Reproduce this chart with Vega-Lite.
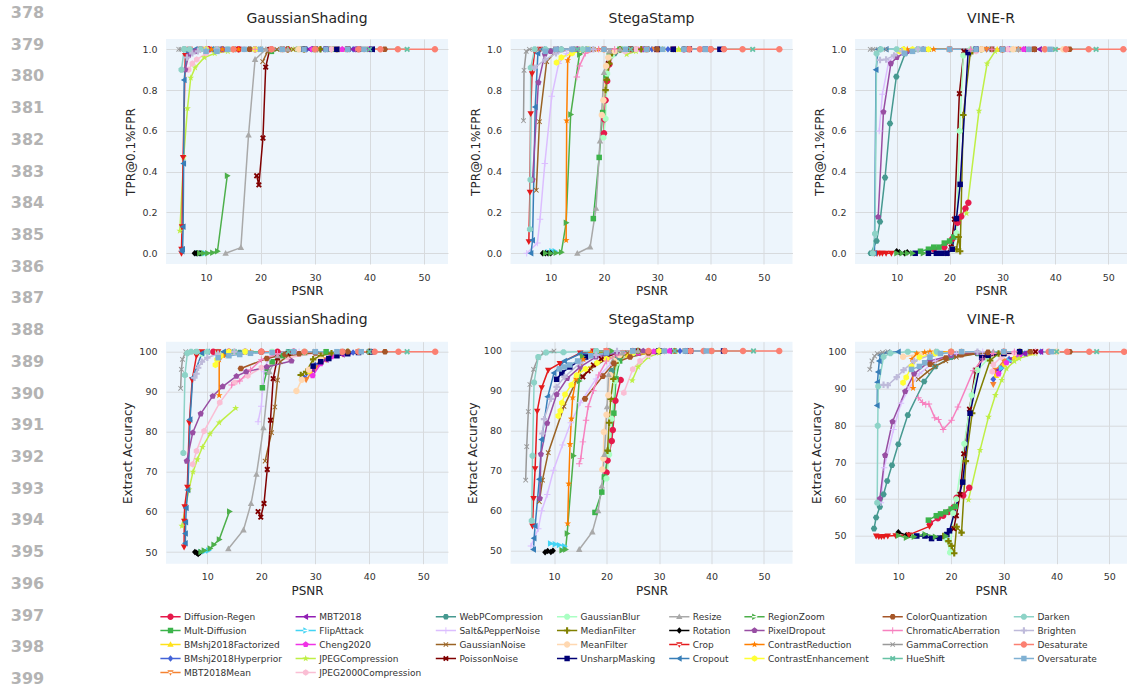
{
"$schema": "https://vega.github.io/schema/vega-lite/v6.json",
"autosize": {"type": "pad"},
"padding": {"left": 0, "top": 4, "right": 0, "bottom": 0},
"background": "white",
"config": {
  "font": "DejaVu Sans",
  "view": {"fill": "#edf5fc", "stroke": null},
  "axis": {"domain": false, "ticks": false, "tickSize": 0, "grid": true, "gridColor": "#d7dadd", "gridWidth": 1, "labelFontSize": 9.5, "labelColor": "#333333", "titleFontSize": 12, "titleFontWeight": "normal", "titleColor": "#262626"},
  "axisX": {"labelPadding": 8, "titlePadding": 4},
  "axisY": {"labelPadding": 9, "titlePadding": 4},
  "title": {"fontSize": 14, "fontWeight": "normal", "color": "#262626", "offset": 13, "baseline": "alphabetic"},
  "range": {
    "category": ["#e6194b","#911eb4","#469990","#aaffc3","#a9a9a9","#4daf4a","#a65628","#8dd3c7","#3cb44b","#42d4f4","#dcbeff","#808000","#000000","#984ea3","#f781bf","#bebada","#ffe119","#f032e6","#9a6324","#ffd8b1","#e41a1c","#ff7f00","#999999","#fb8072","#4363d8","#bfef45","#800000","#000075","#377eb8","#ffff33","#66c2a5","#80b1d3","#f58231","#fabed4"],
    "symbol": [
      "M1,0A1,1,0,1,1,-1,0A1,1,0,1,1,1,0Z",
      "M-1.05,0L0.75,-1L0.75,1Z",
      "M1,0L0.5,0.866L-0.5,0.866L-1,0L-0.5,-0.866L0.5,-0.866Z",
      "M0.924,0.383L0.383,0.924L-0.383,0.924L-0.924,0.383L-0.924,-0.383L-0.383,-0.924L0.383,-0.924L0.924,-0.383Z",
      "M0,-1.05L1,0.75L-1,0.75Z",
      "M1.05,0L-0.75,-1L-0.75,1Z",
      "M1,0L0.5,0.866L-0.5,0.866L-1,0L-0.5,-0.866L0.5,-0.866Z",
      "M0.924,0.383L0.383,0.924L-0.383,0.924L-0.924,0.383L-0.924,-0.383L-0.383,-0.924L0.383,-0.924L0.924,-0.383Z",
      "M-0.85,-0.85L0.85,-0.85L0.85,0.85L-0.85,0.85Z",
      "M1.05,0L-0.75,-1L-0.75,1Z",
      "M-1,-0.15L-0.15,-0.15L-0.15,-1L0.15,-1L0.15,-0.15L1,-0.15L1,0.15L0.15,0.15L0.15,1L-0.15,1L-0.15,0.15L-1,0.15Z",
      "M-1,-0.33L-0.33,-0.33L-0.33,-1L0.33,-1L0.33,-0.33L1,-0.33L1,0.33L0.33,0.33L0.33,1L-0.33,1L-0.33,0.33L-1,0.33Z",
      "M0,-1L0.9,0L0,1L-0.9,0Z",
      "M0,-1L0.951,-0.309L0.588,0.809L-0.588,0.809L-0.951,-0.309Z",
      "M-1,-0.15L-0.15,-0.15L-0.15,-1L0.15,-1L0.15,-0.15L1,-0.15L1,0.15L0.15,0.15L0.15,1L-0.15,1L-0.15,0.15L-1,0.15Z",
      "M-1,-0.33L-0.33,-0.33L-0.33,-1L0.33,-1L0.33,-0.33L1,-0.33L1,0.33L0.33,0.33L0.33,1L-0.33,1L-0.33,0.33L-1,0.33Z",
      "M0,-1.05L1,0.75L-1,0.75Z",
      "M0,-1L0.951,-0.309L0.588,0.809L-0.588,0.809L-0.951,-0.309Z",
      "M-0.8,-0.6L-0.6,-0.8L0,-0.2L0.6,-0.8L0.8,-0.6L0.2,0L0.8,0.6L0.6,0.8L0,0.2L-0.6,0.8L-0.8,0.6L-0.2,0Z",
      "M1,0A1,1,0,1,1,-1,0A1,1,0,1,1,1,0Z",
      "M0,1.05L1,-0.75L-1,-0.75Z",
      "M0,-1.1L0.26,-0.36L1.05,-0.34L0.42,0.14L0.65,0.89L0,0.44L-0.65,0.89L-0.42,0.14L-1.05,-0.34L-0.26,-0.36Z",
      "M-0.8,-0.6L-0.6,-0.8L0,-0.2L0.6,-0.8L0.8,-0.6L0.2,0L0.8,0.6L0.6,0.8L0,0.2L-0.6,0.8L-0.8,0.6L-0.2,0Z",
      "M1,0A1,1,0,1,1,-1,0A1,1,0,1,1,1,0Z",
      "M0,-1L0.9,0L0,1L-0.9,0Z",
      "M0,-1.1L0.26,-0.36L1.05,-0.34L0.42,0.14L0.65,0.89L0,0.44L-0.65,0.89L-0.42,0.14L-1.05,-0.34L-0.26,-0.36Z",
      "M-0.9,-0.5L-0.5,-0.9L0,-0.4L0.5,-0.9L0.9,-0.5L0.4,0L0.9,0.5L0.5,0.9L0,0.4L-0.5,0.9L-0.9,0.5L-0.4,0Z",
      "M-0.85,-0.85L0.85,-0.85L0.85,0.85L-0.85,0.85Z",
      "M-1.05,0L0.75,-1L0.75,1Z",
      "M0,-1L0.866,-0.5L0.866,0.5L0,1L-0.866,0.5L-0.866,-0.5Z",
      "M-0.9,-0.5L-0.5,-0.9L0,-0.4L0.5,-0.9L0.9,-0.5L0.4,0L0.9,0.5L0.5,0.9L0,0.4L-0.5,0.9L-0.9,0.5L-0.4,0Z",
      "M-0.85,-0.85L0.85,-0.85L0.85,0.85L-0.85,0.85Z",
      "M0,1.05L1,-0.75L-1,-0.75Z",
      "M0,-1L0.866,-0.5L0.866,0.5L0,1L-0.866,0.5L-0.866,-0.5Z"
    ]
  },
  "legend": {"orient": "none", "direction": "horizontal", "legendX": 166, "legendY": 573, "columns": 8, "symbolSize": 40, "labelFontSize": 9, "labelColor": "#333333", "labelOffset": 9, "columnPadding": 13.2, "rowPadding": 4, "symbolLimit": 60, "labelLimit": 300, "padding": 0, "symbolStrokeWidth": 0}
},
"datasets": {
"names": [
{"s":0,"name":"Diffusion-Regen"},{"s":1,"name":"Mult-Diffusion"},{"s":2,"name":"BMshj2018Factorized"},{"s":3,"name":"BMshj2018Hyperprior"},{"s":4,"name":"MBT2018Mean"},{"s":5,"name":"MBT2018"},{"s":6,"name":"FlipAttack"},{"s":7,"name":"Cheng2020"},{"s":8,"name":"JPEGCompression"},{"s":9,"name":"JPEG2000Compression"},{"s":10,"name":"WebPCompression"},{"s":11,"name":"Salt&PepperNoise"},{"s":12,"name":"GaussianNoise"},{"s":13,"name":"PoissonNoise"},{"s":14,"name":"GaussianBlur"},{"s":15,"name":"MedianFilter"},{"s":16,"name":"MeanFilter"},{"s":17,"name":"UnsharpMasking"},{"s":18,"name":"Resize"},{"s":19,"name":"Rotation"},{"s":20,"name":"Crop"},{"s":21,"name":"Cropout"},{"s":22,"name":"RegionZoom"},{"s":23,"name":"PixelDropout"},{"s":24,"name":"ContrastReduction"},{"s":25,"name":"ContrastEnhancement"},{"s":26,"name":"ColorQuantization"},{"s":27,"name":"ChromaticAberration"},{"s":28,"name":"GammaCorrection"},{"s":29,"name":"HueShift"},{"s":30,"name":"Darken"},{"s":31,"name":"Brighten"},{"s":32,"name":"Desaturate"},{"s":33,"name":"Oversaturate"}
],
"pts": [
{"p":1,"s":0,"x":10.5,"y":1},{"p":1,"s":0,"x":13,"y":1},{"p":1,"s":0,"x":16,"y":1},{"p":1,"s":0,"x":19,"y":1},{"p":1,"s":0,"x":22,"y":1},{"p":1,"s":0,"x":25,"y":1},
{"p":1,"s":1,"x":22,"y":0.99},{"p":1,"s":1,"x":24,"y":1},{"p":1,"s":1,"x":27,"y":1},{"p":1,"s":1,"x":30,"y":1},{"p":1,"s":1,"x":33,"y":1},
{"p":1,"s":2,"x":28,"y":1},{"p":1,"s":2,"x":30,"y":1},{"p":1,"s":2,"x":32,"y":1},{"p":1,"s":2,"x":35,"y":1},{"p":1,"s":2,"x":38,"y":1},
{"p":1,"s":3,"x":28.5,"y":1},{"p":1,"s":3,"x":31,"y":1},{"p":1,"s":3,"x":34,"y":1},{"p":1,"s":3,"x":37,"y":1},{"p":1,"s":3,"x":40,"y":1},
{"p":1,"s":4,"x":28,"y":1},{"p":1,"s":4,"x":30.5,"y":1},{"p":1,"s":4,"x":33,"y":1},{"p":1,"s":4,"x":36,"y":1},{"p":1,"s":4,"x":39,"y":1},
{"p":1,"s":5,"x":29,"y":1},{"p":1,"s":5,"x":31.5,"y":1},{"p":1,"s":5,"x":34,"y":1},{"p":1,"s":5,"x":37,"y":1},{"p":1,"s":5,"x":40.5,"y":1},
{"p":1,"s":6,"x":8.5,"y":0},{"p":1,"s":6,"x":9.2,"y":0},{"p":1,"s":6,"x":9.8,"y":0},
{"p":1,"s":7,"x":29.5,"y":1},{"p":1,"s":7,"x":32,"y":1},{"p":1,"s":7,"x":35,"y":1},{"p":1,"s":7,"x":38,"y":1},{"p":1,"s":7,"x":40,"y":1},
{"p":1,"s":8,"x":5.2,"y":0.11},{"p":1,"s":8,"x":5.9,"y":0.47},{"p":1,"s":8,"x":6.6,"y":0.71},{"p":1,"s":8,"x":7.2,"y":0.86},{"p":1,"s":8,"x":8,"y":0.91},{"p":1,"s":8,"x":9.7,"y":0.96},{"p":1,"s":8,"x":11.6,"y":0.98},{"p":1,"s":8,"x":14,"y":0.99},{"p":1,"s":8,"x":18,"y":1},{"p":1,"s":8,"x":22,"y":1},{"p":1,"s":8,"x":26,"y":1},
{"p":1,"s":9,"x":6.8,"y":0.9},{"p":1,"s":9,"x":7.5,"y":0.93},{"p":1,"s":9,"x":8.3,"y":0.95},{"p":1,"s":9,"x":10,"y":0.98},{"p":1,"s":9,"x":13,"y":1},{"p":1,"s":9,"x":17,"y":1},{"p":1,"s":9,"x":22,"y":1},{"p":1,"s":9,"x":28,"y":1},{"p":1,"s":9,"x":33,"y":1},
{"p":1,"s":10,"x":6,"y":1},{"p":1,"s":10,"x":9,"y":1},{"p":1,"s":10,"x":13,"y":1},{"p":1,"s":10,"x":18,"y":1},{"p":1,"s":10,"x":24,"y":1},{"p":1,"s":10,"x":30,"y":1},
{"p":1,"s":11,"x":6.5,"y":0.98},{"p":1,"s":11,"x":8,"y":0.99},{"p":1,"s":11,"x":10,"y":1},{"p":1,"s":11,"x":14,"y":1},{"p":1,"s":11,"x":18,"y":1},
{"p":1,"s":12,"x":20.4,"y":0.94},{"p":1,"s":12,"x":21.3,"y":0.99},{"p":1,"s":12,"x":23,"y":1},{"p":1,"s":12,"x":26,"y":1},{"p":1,"s":12,"x":30,"y":1},
{"p":1,"s":13,"x":19.3,"y":0.38},{"p":1,"s":13,"x":19.7,"y":0.335},{"p":1,"s":13,"x":20.45,"y":0.565},{"p":1,"s":13,"x":20.95,"y":0.913},{"p":1,"s":13,"x":21.7,"y":1},{"p":1,"s":13,"x":24,"y":1},{"p":1,"s":13,"x":28,"y":1},{"p":1,"s":13,"x":32,"y":1},{"p":1,"s":13,"x":36,"y":1},{"p":1,"s":13,"x":40,"y":1},
{"p":1,"s":14,"x":10,"y":1},{"p":1,"s":14,"x":14,"y":1},{"p":1,"s":14,"x":19,"y":1},{"p":1,"s":14,"x":24,"y":1},{"p":1,"s":14,"x":30,"y":1},
{"p":1,"s":15,"x":25,"y":1},{"p":1,"s":15,"x":28,"y":1},{"p":1,"s":15,"x":31,"y":1},{"p":1,"s":15,"x":34,"y":1},
{"p":1,"s":16,"x":24,"y":1},{"p":1,"s":16,"x":27,"y":1},{"p":1,"s":16,"x":30,"y":1},{"p":1,"s":16,"x":34,"y":1},{"p":1,"s":16,"x":38,"y":1},
{"p":1,"s":17,"x":28,"y":1},{"p":1,"s":17,"x":30,"y":1},{"p":1,"s":17,"x":32,"y":1},{"p":1,"s":17,"x":34,"y":1},{"p":1,"s":17,"x":36,"y":1},{"p":1,"s":17,"x":38,"y":1},{"p":1,"s":17,"x":40.5,"y":1},
{"p":1,"s":18,"x":13.6,"y":0},{"p":1,"s":18,"x":16.4,"y":0.028},{"p":1,"s":18,"x":17.8,"y":0.58},{"p":1,"s":18,"x":19,"y":0.95},{"p":1,"s":18,"x":21,"y":1},{"p":1,"s":18,"x":25,"y":1},{"p":1,"s":18,"x":30,"y":1},
{"p":1,"s":19,"x":7.9,"y":0},{"p":1,"s":19,"x":8.2,"y":0},{"p":1,"s":19,"x":8.5,"y":0},{"p":1,"s":19,"x":8.9,"y":0},
{"p":1,"s":20,"x":5.5,"y":0},{"p":1,"s":20,"x":5.5,"y":0.02},{"p":1,"s":20,"x":5.6,"y":0.13},{"p":1,"s":20,"x":5.8,"y":0.47},{"p":1,"s":20,"x":6.2,"y":0.97},{"p":1,"s":20,"x":7,"y":1},{"p":1,"s":20,"x":9,"y":1},{"p":1,"s":20,"x":12,"y":1},{"p":1,"s":20,"x":16,"y":1},
{"p":1,"s":21,"x":5.6,"y":0.01},{"p":1,"s":21,"x":5.7,"y":0.02},{"p":1,"s":21,"x":5.8,"y":0.13},{"p":1,"s":21,"x":5.9,"y":0.44},{"p":1,"s":21,"x":6,"y":0.85},{"p":1,"s":21,"x":6.5,"y":0.99},{"p":1,"s":21,"x":8,"y":1},{"p":1,"s":21,"x":11,"y":1},{"p":1,"s":21,"x":15,"y":1},
{"p":1,"s":22,"x":8.8,"y":0},{"p":1,"s":22,"x":9.5,"y":0},{"p":1,"s":22,"x":10.3,"y":0},{"p":1,"s":22,"x":11.2,"y":0.003},{"p":1,"s":22,"x":12.1,"y":0.01},{"p":1,"s":22,"x":13.9,"y":0.38},
{"p":1,"s":23,"x":6.2,"y":0.9},{"p":1,"s":23,"x":6.8,"y":0.97},{"p":1,"s":23,"x":8,"y":0.99},{"p":1,"s":23,"x":10,"y":1},{"p":1,"s":23,"x":13,"y":1},
{"p":1,"s":24,"x":11,"y":1},{"p":1,"s":24,"x":13,"y":1},{"p":1,"s":24,"x":16,"y":1},{"p":1,"s":24,"x":20,"y":1},
{"p":1,"s":25,"x":10,"y":1},{"p":1,"s":25,"x":12,"y":1},{"p":1,"s":25,"x":15,"y":1},{"p":1,"s":25,"x":19,"y":1},
{"p":1,"s":26,"x":18,"y":1},{"p":1,"s":26,"x":24,"y":1},{"p":1,"s":26,"x":30,"y":1},{"p":1,"s":26,"x":36,"y":1},{"p":1,"s":26,"x":42.8,"y":1},
{"p":1,"s":27,"x":12,"y":1},{"p":1,"s":27,"x":15,"y":1},{"p":1,"s":27,"x":19,"y":1},{"p":1,"s":27,"x":24,"y":1},
{"p":1,"s":28,"x":5,"y":1},{"p":1,"s":28,"x":5.4,"y":1},{"p":1,"s":28,"x":6,"y":1},{"p":1,"s":28,"x":7,"y":1},
{"p":1,"s":29,"x":12,"y":1},{"p":1,"s":29,"x":20,"y":1},{"p":1,"s":29,"x":30,"y":1},{"p":1,"s":29,"x":40,"y":1},{"p":1,"s":29,"x":46.9,"y":1},
{"p":1,"s":30,"x":5.5,"y":0.9},{"p":1,"s":30,"x":6,"y":1},{"p":1,"s":30,"x":7,"y":1},{"p":1,"s":30,"x":9,"y":1},{"p":1,"s":30,"x":12,"y":1},
{"p":1,"s":31,"x":6.5,"y":0.96},{"p":1,"s":31,"x":7.5,"y":0.98},{"p":1,"s":31,"x":8.5,"y":0.99},{"p":1,"s":31,"x":10,"y":0.995},{"p":1,"s":31,"x":12,"y":1},
{"p":1,"s":32,"x":15,"y":1},{"p":1,"s":32,"x":22,"y":1},{"p":1,"s":32,"x":30,"y":1},{"p":1,"s":32,"x":38,"y":1},{"p":1,"s":32,"x":42,"y":1},{"p":1,"s":32,"x":45.2,"y":1},{"p":1,"s":32,"x":52,"y":1},
{"p":1,"s":33,"x":10,"y":0.99},{"p":1,"s":33,"x":12,"y":0.99},{"p":1,"s":33,"x":14,"y":1},{"p":1,"s":33,"x":17,"y":1},{"p":1,"s":33,"x":20,"y":1},{"p":1,"s":33,"x":24,"y":1},{"p":1,"s":33,"x":28,"y":1},{"p":1,"s":33,"x":32,"y":1},{"p":1,"s":33,"x":36,"y":1},{"p":1,"s":33,"x":39,"y":1},

{"p":2,"s":0,"x":20,"y":0.588},{"p":2,"s":0,"x":20.06,"y":0.657},{"p":2,"s":0,"x":20.3,"y":0.75},{"p":2,"s":0,"x":20.6,"y":0.845},{"p":2,"s":0,"x":21,"y":0.926},{"p":2,"s":0,"x":22,"y":0.99},{"p":2,"s":0,"x":25,"y":1},{"p":2,"s":0,"x":30,"y":1},{"p":2,"s":0,"x":35,"y":1},{"p":2,"s":0,"x":40,"y":1},
{"p":2,"s":1,"x":18,"y":0.17},{"p":2,"s":1,"x":19.1,"y":0.47},{"p":2,"s":1,"x":19.75,"y":0.69},{"p":2,"s":1,"x":20.4,"y":0.87},{"p":2,"s":1,"x":21,"y":0.97},{"p":2,"s":1,"x":23,"y":1},{"p":2,"s":1,"x":28,"y":1},{"p":2,"s":1,"x":33,"y":1},
{"p":2,"s":2,"x":25,"y":1},{"p":2,"s":2,"x":28,"y":1},{"p":2,"s":2,"x":31,"y":1},{"p":2,"s":2,"x":34,"y":1},
{"p":2,"s":3,"x":26,"y":1},{"p":2,"s":3,"x":29,"y":1},{"p":2,"s":3,"x":32,"y":1},{"p":2,"s":3,"x":35,"y":1},
{"p":2,"s":4,"x":26,"y":1},{"p":2,"s":4,"x":29.5,"y":1},{"p":2,"s":4,"x":33,"y":1},{"p":2,"s":4,"x":36,"y":1},
{"p":2,"s":5,"x":27,"y":1},{"p":2,"s":5,"x":30,"y":1},{"p":2,"s":5,"x":33,"y":1},{"p":2,"s":5,"x":36,"y":1},
{"p":2,"s":6,"x":9.5,"y":0.005},{"p":2,"s":6,"x":10.2,"y":0.01},{"p":2,"s":6,"x":10.8,"y":0.01},
{"p":2,"s":7,"x":27,"y":1},{"p":2,"s":7,"x":30,"y":1},{"p":2,"s":7,"x":33,"y":1},{"p":2,"s":7,"x":36,"y":1},
{"p":2,"s":8,"x":24.25,"y":0.975},{"p":2,"s":8,"x":26,"y":0.99},{"p":2,"s":8,"x":28,"y":1},{"p":2,"s":8,"x":31,"y":1},{"p":2,"s":8,"x":34,"y":1},
{"p":2,"s":9,"x":22,"y":0.98},{"p":2,"s":9,"x":24,"y":0.99},{"p":2,"s":9,"x":26,"y":1},{"p":2,"s":9,"x":30,"y":1},
{"p":2,"s":10,"x":22,"y":0.98},{"p":2,"s":10,"x":25,"y":1},{"p":2,"s":10,"x":30,"y":1},{"p":2,"s":10,"x":35,"y":1},
{"p":2,"s":11,"x":5.5,"y":0},{"p":2,"s":11,"x":7.5,"y":0.05},{"p":2,"s":11,"x":8,"y":0.167},{"p":2,"s":11,"x":8.9,"y":0.44},{"p":2,"s":11,"x":10.2,"y":0.77},{"p":2,"s":11,"x":11.5,"y":0.93},{"p":2,"s":11,"x":13,"y":0.98},{"p":2,"s":11,"x":16,"y":1},
{"p":2,"s":12,"x":7.3,"y":0.309},{"p":2,"s":12,"x":7.9,"y":0.645},{"p":2,"s":12,"x":9.25,"y":0.94},{"p":2,"s":12,"x":11,"y":0.99},{"p":2,"s":12,"x":14,"y":1},{"p":2,"s":12,"x":18,"y":1},
{"p":2,"s":13,"x":20.8,"y":0.93},{"p":2,"s":13,"x":22,"y":0.99},{"p":2,"s":13,"x":25,"y":1},{"p":2,"s":13,"x":30,"y":1},{"p":2,"s":13,"x":36,"y":1},
{"p":2,"s":14,"x":19.9,"y":0.567},{"p":2,"s":14,"x":20.3,"y":0.66},{"p":2,"s":14,"x":20.6,"y":0.88},{"p":2,"s":14,"x":21.5,"y":0.97},{"p":2,"s":14,"x":24,"y":1},{"p":2,"s":14,"x":28,"y":1},
{"p":2,"s":15,"x":20.3,"y":0.8},{"p":2,"s":15,"x":20.5,"y":0.85},{"p":2,"s":15,"x":21,"y":0.93},{"p":2,"s":15,"x":21.5,"y":0.98},{"p":2,"s":15,"x":23,"y":1},{"p":2,"s":15,"x":27,"y":1},
{"p":2,"s":16,"x":19.6,"y":0.678},{"p":2,"s":16,"x":19.9,"y":0.75},{"p":2,"s":16,"x":20.4,"y":0.918},{"p":2,"s":16,"x":20.8,"y":0.96},{"p":2,"s":16,"x":22,"y":0.99},{"p":2,"s":16,"x":25,"y":1},{"p":2,"s":16,"x":30,"y":1},{"p":2,"s":16,"x":36,"y":1},
{"p":2,"s":17,"x":25,"y":1},{"p":2,"s":17,"x":28,"y":1},{"p":2,"s":17,"x":30,"y":1},{"p":2,"s":17,"x":33,"y":1},{"p":2,"s":17,"x":36,"y":1},{"p":2,"s":17,"x":39,"y":1},{"p":2,"s":17,"x":41.75,"y":1},
{"p":2,"s":18,"x":15,"y":0},{"p":2,"s":18,"x":17.4,"y":0.031},{"p":2,"s":18,"x":18.5,"y":0.22},{"p":2,"s":18,"x":19.25,"y":0.55},{"p":2,"s":18,"x":20,"y":0.886},{"p":2,"s":18,"x":21,"y":0.99},{"p":2,"s":18,"x":23,"y":1},
{"p":2,"s":19,"x":8.5,"y":0},{"p":2,"s":19,"x":9,"y":0},{"p":2,"s":19,"x":9.5,"y":0},{"p":2,"s":19,"x":10,"y":0},
{"p":2,"s":20,"x":5.9,"y":0.057},{"p":2,"s":20,"x":6.1,"y":0.3},{"p":2,"s":20,"x":6.25,"y":0.685},{"p":2,"s":20,"x":6.5,"y":0.88},{"p":2,"s":20,"x":7,"y":0.99},{"p":2,"s":20,"x":8,"y":1},{"p":2,"s":20,"x":11,"y":1},{"p":2,"s":20,"x":15,"y":1},
{"p":2,"s":21,"x":6.3,"y":0},{"p":2,"s":21,"x":6.6,"y":0.064},{"p":2,"s":21,"x":7.1,"y":0.717},{"p":2,"s":21,"x":7.6,"y":0.98},{"p":2,"s":21,"x":8.5,"y":1},{"p":2,"s":21,"x":11,"y":1},{"p":2,"s":21,"x":14,"y":1},
{"p":2,"s":22,"x":9,"y":0},{"p":2,"s":22,"x":10,"y":0},{"p":2,"s":22,"x":11,"y":0.002},{"p":2,"s":22,"x":12,"y":0.005},{"p":2,"s":22,"x":12.9,"y":0.15},{"p":2,"s":22,"x":13.75,"y":0.68},{"p":2,"s":22,"x":15.4,"y":0.975},{"p":2,"s":22,"x":17,"y":1},
{"p":2,"s":23,"x":6.6,"y":0.36},{"p":2,"s":23,"x":7.7,"y":0.837},{"p":2,"s":23,"x":8.9,"y":0.976},{"p":2,"s":23,"x":10,"y":0.99},{"p":2,"s":23,"x":12,"y":1},{"p":2,"s":23,"x":15,"y":1},
{"p":2,"s":24,"x":12.9,"y":0.064},{"p":2,"s":24,"x":13,"y":0.65},{"p":2,"s":24,"x":13.2,"y":0.946},{"p":2,"s":24,"x":14,"y":0.99},{"p":2,"s":24,"x":16,"y":1},{"p":2,"s":24,"x":19,"y":1},
{"p":2,"s":25,"x":11.1,"y":0.935},{"p":2,"s":25,"x":12,"y":0.96},{"p":2,"s":25,"x":14,"y":0.98},{"p":2,"s":25,"x":17,"y":1},{"p":2,"s":25,"x":20,"y":1},
{"p":2,"s":26,"x":20,"y":1},{"p":2,"s":26,"x":25,"y":1},{"p":2,"s":26,"x":30,"y":1},{"p":2,"s":26,"x":36,"y":1},{"p":2,"s":26,"x":42.5,"y":1},
{"p":2,"s":27,"x":14.9,"y":0.864},{"p":2,"s":27,"x":15.4,"y":0.918},{"p":2,"s":27,"x":16.5,"y":0.98},{"p":2,"s":27,"x":19,"y":1},{"p":2,"s":27,"x":22,"y":1},
{"p":2,"s":28,"x":4.9,"y":0.65},{"p":2,"s":28,"x":5,"y":0.897},{"p":2,"s":28,"x":5.4,"y":0.99},{"p":2,"s":28,"x":6,"y":1},{"p":2,"s":28,"x":8,"y":1},
{"p":2,"s":29,"x":15,"y":1},{"p":2,"s":29,"x":25,"y":1},{"p":2,"s":29,"x":35,"y":1},{"p":2,"s":29,"x":40,"y":1},{"p":2,"s":29,"x":47.9,"y":1},
{"p":2,"s":30,"x":6.1,"y":0.118},{"p":2,"s":30,"x":6.2,"y":0.36},{"p":2,"s":30,"x":6.25,"y":0.91},{"p":2,"s":30,"x":7,"y":1},{"p":2,"s":30,"x":9,"y":1},{"p":2,"s":30,"x":12,"y":1},{"p":2,"s":30,"x":16,"y":1},
{"p":2,"s":31,"x":7,"y":0.91},{"p":2,"s":31,"x":9,"y":0.95},{"p":2,"s":31,"x":11,"y":0.98},{"p":2,"s":31,"x":14,"y":1},{"p":2,"s":31,"x":18,"y":1},
{"p":2,"s":32,"x":20,"y":1},{"p":2,"s":32,"x":28,"y":1},{"p":2,"s":32,"x":36,"y":1},{"p":2,"s":32,"x":38,"y":1},{"p":2,"s":32,"x":40,"y":1},{"p":2,"s":32,"x":42.5,"y":1},{"p":2,"s":32,"x":46,"y":1},{"p":2,"s":32,"x":52.9,"y":1},
{"p":2,"s":33,"x":9,"y":0.99},{"p":2,"s":33,"x":11,"y":1},{"p":2,"s":33,"x":14,"y":1},{"p":2,"s":33,"x":17,"y":1},{"p":2,"s":33,"x":20,"y":1},{"p":2,"s":33,"x":24,"y":1},{"p":2,"s":33,"x":28,"y":1},{"p":2,"s":33,"x":31,"y":1},{"p":2,"s":33,"x":35,"y":1},{"p":2,"s":33,"x":39,"y":1},

{"p":3,"s":0,"x":17,"y":0.02},{"p":3,"s":0,"x":19,"y":0.03},{"p":3,"s":0,"x":20.5,"y":0.07},{"p":3,"s":0,"x":21.5,"y":0.15},{"p":3,"s":0,"x":22.2,"y":0.18},{"p":3,"s":0,"x":23,"y":0.22},{"p":3,"s":0,"x":23.55,"y":0.248},
{"p":3,"s":1,"x":14.5,"y":0.01},{"p":3,"s":1,"x":16,"y":0.02},{"p":3,"s":1,"x":17,"y":0.03},{"p":3,"s":1,"x":18,"y":0.03},{"p":3,"s":1,"x":19,"y":0.05},{"p":3,"s":1,"x":20,"y":0.06},{"p":3,"s":1,"x":20.8,"y":0.08},
{"p":3,"s":2,"x":26,"y":1},{"p":3,"s":2,"x":29,"y":1},{"p":3,"s":2,"x":32,"y":1},{"p":3,"s":2,"x":35,"y":1},
{"p":3,"s":3,"x":27,"y":1},{"p":3,"s":3,"x":30,"y":1},{"p":3,"s":3,"x":33,"y":1},{"p":3,"s":3,"x":36,"y":1},
{"p":3,"s":4,"x":27,"y":1},{"p":3,"s":4,"x":30,"y":1},{"p":3,"s":4,"x":33,"y":1},{"p":3,"s":4,"x":36,"y":1},
{"p":3,"s":5,"x":28,"y":1},{"p":3,"s":5,"x":31,"y":1},{"p":3,"s":5,"x":34,"y":1},{"p":3,"s":5,"x":37,"y":1},
{"p":3,"s":6,"x":28,"y":1},{"p":3,"s":6,"x":30,"y":1},{"p":3,"s":6,"x":32,"y":1},
{"p":3,"s":7,"x":28,"y":1},{"p":3,"s":7,"x":31,"y":1},{"p":3,"s":7,"x":34,"y":1},{"p":3,"s":7,"x":36,"y":1},
{"p":3,"s":8,"x":23.2,"y":0.196},{"p":3,"s":8,"x":25.56,"y":0.698},{"p":3,"s":8,"x":27.1,"y":0.93},{"p":3,"s":8,"x":28.6,"y":0.99},{"p":3,"s":8,"x":32,"y":1},{"p":3,"s":8,"x":36,"y":1},
{"p":3,"s":9,"x":25,"y":0.99},{"p":3,"s":9,"x":28,"y":1},{"p":3,"s":9,"x":31,"y":1},{"p":3,"s":9,"x":35,"y":1},
{"p":3,"s":10,"x":5.1,"y":0},{"p":3,"s":10,"x":6.2,"y":0.06},{"p":3,"s":10,"x":6.85,"y":0.155},{"p":3,"s":10,"x":7.8,"y":0.371},{"p":3,"s":10,"x":8.74,"y":0.636},{"p":3,"s":10,"x":9.94,"y":0.866},{"p":3,"s":10,"x":11.6,"y":0.98},{"p":3,"s":10,"x":14,"y":1},{"p":3,"s":10,"x":20,"y":1},
{"p":3,"s":11,"x":6.7,"y":0.6},{"p":3,"s":11,"x":7.3,"y":0.78},{"p":3,"s":11,"x":8.5,"y":0.94},{"p":3,"s":11,"x":10,"y":0.98},{"p":3,"s":11,"x":13,"y":1},
{"p":3,"s":12,"x":13,"y":0.99},{"p":3,"s":12,"x":16,"y":1},{"p":3,"s":12,"x":20,"y":1},{"p":3,"s":12,"x":25,"y":1},
{"p":3,"s":13,"x":19.5,"y":0},{"p":3,"s":13,"x":20.3,"y":0.03},{"p":3,"s":13,"x":20.9,"y":0.167},{"p":3,"s":13,"x":21.85,"y":0.783},{"p":3,"s":13,"x":22.7,"y":0.99},{"p":3,"s":13,"x":25,"y":1},{"p":3,"s":13,"x":30,"y":1},{"p":3,"s":13,"x":36,"y":1},
{"p":3,"s":14,"x":20.5,"y":0.02},{"p":3,"s":14,"x":21.3,"y":0.1},{"p":3,"s":14,"x":21.9,"y":0.6},{"p":3,"s":14,"x":22.6,"y":0.97},{"p":3,"s":14,"x":24,"y":1},{"p":3,"s":14,"x":28,"y":1},
{"p":3,"s":15,"x":21.3,"y":0.02},{"p":3,"s":15,"x":21.7,"y":0.08},{"p":3,"s":15,"x":22,"y":0.01},{"p":3,"s":15,"x":22.6,"y":0.678},{"p":3,"s":15,"x":23.9,"y":0.98},{"p":3,"s":15,"x":26,"y":1},{"p":3,"s":15,"x":30,"y":1},
{"p":3,"s":16,"x":20,"y":1},{"p":3,"s":16,"x":26,"y":1},{"p":3,"s":16,"x":32,"y":1},{"p":3,"s":16,"x":38,"y":1},{"p":3,"s":16,"x":41.5,"y":1},
{"p":3,"s":17,"x":13.5,"y":0},{"p":3,"s":17,"x":16,"y":0},{"p":3,"s":17,"x":17.5,"y":0},{"p":3,"s":17,"x":18.5,"y":0},{"p":3,"s":17,"x":19.5,"y":0},{"p":3,"s":17,"x":20.5,"y":0.02},{"p":3,"s":17,"x":21.3,"y":0.17},{"p":3,"s":17,"x":22,"y":0.338},{"p":3,"s":17,"x":23.5,"y":0.984},{"p":3,"s":17,"x":25,"y":1},{"p":3,"s":17,"x":30,"y":1},
{"p":3,"s":18,"x":20,"y":1},{"p":3,"s":18,"x":24,"y":1},{"p":3,"s":18,"x":28,"y":1},{"p":3,"s":18,"x":33,"y":1},
{"p":3,"s":19,"x":10,"y":0.01},{"p":3,"s":19,"x":10.5,"y":0.005},{"p":3,"s":19,"x":11.5,"y":0},{"p":3,"s":19,"x":12,"y":0.005},
{"p":3,"s":20,"x":5.8,"y":0},{"p":3,"s":20,"x":6.3,"y":0},{"p":3,"s":20,"x":6.8,"y":0},{"p":3,"s":20,"x":7.3,"y":0},{"p":3,"s":20,"x":8,"y":0},{"p":3,"s":20,"x":9,"y":0},
{"p":3,"s":21,"x":5.8,"y":0},{"p":3,"s":21,"x":6.1,"y":0.9},{"p":3,"s":21,"x":6.5,"y":1},{"p":3,"s":21,"x":8,"y":1},{"p":3,"s":21,"x":11,"y":1},
{"p":3,"s":22,"x":10,"y":0},{"p":3,"s":22,"x":11,"y":0},{"p":3,"s":22,"x":12,"y":0},{"p":3,"s":22,"x":13,"y":0},{"p":3,"s":22,"x":15,"y":0},
{"p":3,"s":23,"x":6.5,"y":0.178},{"p":3,"s":23,"x":7.5,"y":0.693},{"p":3,"s":23,"x":8.9,"y":0.93},{"p":3,"s":23,"x":10,"y":0.96},{"p":3,"s":23,"x":12,"y":0.99},{"p":3,"s":23,"x":15,"y":1},
{"p":3,"s":24,"x":12,"y":1},{"p":3,"s":24,"x":14,"y":1},{"p":3,"s":24,"x":17,"y":1},{"p":3,"s":24,"x":20,"y":1},
{"p":3,"s":25,"x":10.5,"y":0.99},{"p":3,"s":25,"x":11.3,"y":1},{"p":3,"s":25,"x":13,"y":1},{"p":3,"s":25,"x":16,"y":1},
{"p":3,"s":26,"x":20,"y":1},{"p":3,"s":26,"x":28,"y":1},{"p":3,"s":26,"x":36,"y":1},{"p":3,"s":26,"x":42.7,"y":1},
{"p":3,"s":27,"x":20,"y":1},{"p":3,"s":27,"x":24,"y":1},{"p":3,"s":27,"x":28,"y":1},
{"p":3,"s":28,"x":5,"y":1},{"p":3,"s":28,"x":5.5,"y":1},{"p":3,"s":28,"x":6.5,"y":1},{"p":3,"s":28,"x":8,"y":1},
{"p":3,"s":29,"x":20,"y":1},{"p":3,"s":29,"x":30,"y":1},{"p":3,"s":29,"x":40,"y":1},{"p":3,"s":29,"x":47.7,"y":1},
{"p":3,"s":30,"x":5.5,"y":0},{"p":3,"s":30,"x":5.9,"y":0.096},{"p":3,"s":30,"x":6.2,"y":0.98},{"p":3,"s":30,"x":7,"y":1},{"p":3,"s":30,"x":10,"y":1},{"p":3,"s":30,"x":14,"y":1},
{"p":3,"s":31,"x":6.85,"y":0.948},{"p":3,"s":31,"x":8,"y":0.95},{"p":3,"s":31,"x":9.5,"y":0.97},{"p":3,"s":31,"x":11,"y":0.99},{"p":3,"s":31,"x":14,"y":1},
{"p":3,"s":32,"x":20,"y":1},{"p":3,"s":32,"x":30,"y":1},{"p":3,"s":32,"x":38,"y":1},{"p":3,"s":32,"x":42,"y":1},{"p":3,"s":32,"x":46.3,"y":1},{"p":3,"s":32,"x":52.85,"y":1},
{"p":3,"s":33,"x":11.5,"y":0.98},{"p":3,"s":33,"x":13,"y":0.99},{"p":3,"s":33,"x":15,"y":1},{"p":3,"s":33,"x":20,"y":1},{"p":3,"s":33,"x":25,"y":1},{"p":3,"s":33,"x":30,"y":1},{"p":3,"s":33,"x":35,"y":1},{"p":3,"s":33,"x":39,"y":1},

{"p":4,"s":0,"x":11.1,"y":100},{"p":4,"s":0,"x":14,"y":100},{"p":4,"s":0,"x":17,"y":100},{"p":4,"s":0,"x":20,"y":100},{"p":4,"s":0,"x":23,"y":100},{"p":4,"s":0,"x":26,"y":100},
{"p":4,"s":1,"x":20.2,"y":91},{"p":4,"s":1,"x":21,"y":95},{"p":4,"s":1,"x":22,"y":97.5},{"p":4,"s":1,"x":24,"y":99},{"p":4,"s":1,"x":28,"y":99.8},{"p":4,"s":1,"x":32,"y":100},
{"p":4,"s":2,"x":29,"y":95},{"p":4,"s":2,"x":31,"y":97.5},{"p":4,"s":2,"x":34,"y":99.2},{"p":4,"s":2,"x":38,"y":100},
{"p":4,"s":3,"x":28,"y":93.5},{"p":4,"s":3,"x":30,"y":96.7},{"p":4,"s":3,"x":33,"y":99},{"p":4,"s":3,"x":37,"y":99.8},{"p":4,"s":3,"x":40,"y":100},
{"p":4,"s":4,"x":28.3,"y":93},{"p":4,"s":4,"x":30,"y":96},{"p":4,"s":4,"x":32,"y":98},{"p":4,"s":4,"x":35,"y":99.4},{"p":4,"s":4,"x":38,"y":100},{"p":4,"s":4,"x":40.5,"y":100},
{"p":4,"s":5,"x":29.5,"y":95.5},{"p":4,"s":5,"x":32,"y":98},{"p":4,"s":5,"x":35,"y":99.3},{"p":4,"s":5,"x":40,"y":100},
{"p":4,"s":6,"x":8.8,"y":50},{"p":4,"s":6,"x":9.5,"y":50.2},{"p":4,"s":6,"x":10.2,"y":50.4},
{"p":4,"s":7,"x":29.5,"y":94},{"p":4,"s":7,"x":31,"y":97},{"p":4,"s":7,"x":33,"y":98.8},{"p":4,"s":7,"x":36,"y":99.6},{"p":4,"s":7,"x":40,"y":100},
{"p":4,"s":8,"x":5.3,"y":56.5},{"p":4,"s":8,"x":6.6,"y":65.6},{"p":4,"s":8,"x":7.35,"y":70},{"p":4,"s":8,"x":8.15,"y":73.1},{"p":4,"s":8,"x":9.1,"y":76.2},{"p":4,"s":8,"x":10.5,"y":79.5},{"p":4,"s":8,"x":12.2,"y":82.3},{"p":4,"s":8,"x":15.25,"y":85.9},
{"p":4,"s":9,"x":7.3,"y":71.9},{"p":4,"s":9,"x":8,"y":75.2},{"p":4,"s":9,"x":9.4,"y":80.2},{"p":4,"s":9,"x":12.3,"y":87.3},{"p":4,"s":9,"x":15.1,"y":92.3},{"p":4,"s":9,"x":17.5,"y":94},{"p":4,"s":9,"x":20,"y":96},{"p":4,"s":9,"x":25,"y":98.5},{"p":4,"s":9,"x":30,"y":99.6},{"p":4,"s":9,"x":35,"y":100},
{"p":4,"s":10,"x":13.5,"y":99.5},{"p":4,"s":10,"x":16,"y":99.8},{"p":4,"s":10,"x":20,"y":100},{"p":4,"s":10,"x":25,"y":100},{"p":4,"s":10,"x":30,"y":100},
{"p":4,"s":11,"x":19.4,"y":82.5},{"p":4,"s":11,"x":20,"y":86.4},{"p":4,"s":11,"x":20.5,"y":95},{"p":4,"s":11,"x":21.2,"y":98},{"p":4,"s":11,"x":23,"y":99.5},{"p":4,"s":11,"x":27,"y":100},
{"p":4,"s":12,"x":20.7,"y":72.7},{"p":4,"s":12,"x":21.9,"y":79.8},{"p":4,"s":12,"x":22.5,"y":86.2},{"p":4,"s":12,"x":23,"y":92.9},{"p":4,"s":12,"x":23.5,"y":97.5},{"p":4,"s":12,"x":25,"y":99},{"p":4,"s":12,"x":30,"y":100},
{"p":4,"s":13,"x":19.4,"y":60.1},{"p":4,"s":13,"x":19.9,"y":58.7},{"p":4,"s":13,"x":20.5,"y":62.1},{"p":4,"s":13,"x":21.1,"y":70.6},{"p":4,"s":13,"x":21.7,"y":82.9},{"p":4,"s":13,"x":22.2,"y":93.3},{"p":4,"s":13,"x":23,"y":98.5},{"p":4,"s":13,"x":25,"y":99.5},{"p":4,"s":13,"x":30,"y":100},{"p":4,"s":13,"x":35,"y":100},{"p":4,"s":13,"x":40,"y":100},
{"p":4,"s":14,"x":9,"y":99.5},{"p":4,"s":14,"x":12,"y":100},{"p":4,"s":14,"x":17,"y":100},{"p":4,"s":14,"x":22,"y":100},{"p":4,"s":14,"x":28,"y":100},
{"p":4,"s":15,"x":27.3,"y":94.2},{"p":4,"s":15,"x":28.3,"y":95},{"p":4,"s":15,"x":29.6,"y":98.1},{"p":4,"s":15,"x":31,"y":99},{"p":4,"s":15,"x":33,"y":99.6},{"p":4,"s":15,"x":36,"y":100},{"p":4,"s":15,"x":40,"y":100},
{"p":4,"s":16,"x":26.5,"y":90.2},{"p":4,"s":16,"x":27.5,"y":93},{"p":4,"s":16,"x":28.8,"y":95.5},{"p":4,"s":16,"x":31,"y":98},{"p":4,"s":16,"x":34,"y":99.5},{"p":4,"s":16,"x":38,"y":100},
{"p":4,"s":17,"x":29.6,"y":96.4},{"p":4,"s":17,"x":31,"y":97.5},{"p":4,"s":17,"x":32.5,"y":98.3},{"p":4,"s":17,"x":34,"y":99},{"p":4,"s":17,"x":36,"y":99.5},{"p":4,"s":17,"x":38,"y":99.8},{"p":4,"s":17,"x":40.5,"y":100},
{"p":4,"s":18,"x":13.9,"y":50.8},{"p":4,"s":18,"x":16.7,"y":55.5},{"p":4,"s":18,"x":18.1,"y":62.1},{"p":4,"s":18,"x":19.1,"y":69.4},{"p":4,"s":18,"x":20.4,"y":81},{"p":4,"s":18,"x":21.5,"y":95},{"p":4,"s":18,"x":23,"y":99},{"p":4,"s":18,"x":26,"y":100},
{"p":4,"s":19,"x":7.7,"y":50},{"p":4,"s":19,"x":8,"y":49.8},{"p":4,"s":19,"x":8.3,"y":49.5},{"p":4,"s":19,"x":8.6,"y":49.8},
{"p":4,"s":20,"x":5.7,"y":51.25},{"p":4,"s":20,"x":5.74,"y":57.7},{"p":4,"s":20,"x":5.8,"y":61.3},{"p":4,"s":20,"x":6.3,"y":66.2},{"p":4,"s":20,"x":6.67,"y":82.3},{"p":4,"s":20,"x":7.2,"y":93},{"p":4,"s":20,"x":8,"y":99},{"p":4,"s":20,"x":9,"y":100},{"p":4,"s":20,"x":12,"y":100},
{"p":4,"s":21,"x":5.93,"y":52.2},{"p":4,"s":21,"x":5.95,"y":54.6},{"p":4,"s":21,"x":6,"y":57.4},{"p":4,"s":21,"x":6.1,"y":61},{"p":4,"s":21,"x":6.4,"y":65.5},{"p":4,"s":21,"x":6.8,"y":83.1},{"p":4,"s":21,"x":7.3,"y":93.5},{"p":4,"s":21,"x":9,"y":99.6},{"p":4,"s":21,"x":10,"y":100},{"p":4,"s":21,"x":13,"y":100},
{"p":4,"s":22,"x":8.8,"y":50},{"p":4,"s":22,"x":9.4,"y":50.4},{"p":4,"s":22,"x":10.5,"y":50.9},{"p":4,"s":22,"x":11.2,"y":51.8},{"p":4,"s":22,"x":12.2,"y":53.1},{"p":4,"s":22,"x":14.1,"y":60.1},
{"p":4,"s":23,"x":6.2,"y":72.7},{"p":4,"s":23,"x":7.3,"y":79.8},{"p":4,"s":23,"x":8.77,"y":84.5},{"p":4,"s":23,"x":11,"y":88.9},{"p":4,"s":23,"x":12.84,"y":91.3},{"p":4,"s":23,"x":15.4,"y":93.9},{"p":4,"s":23,"x":17.2,"y":95},{"p":4,"s":23,"x":21,"y":96.2},{"p":4,"s":23,"x":25.6,"y":97.7},
{"p":4,"s":24,"x":12.2,"y":89.1},{"p":4,"s":24,"x":12.2,"y":98},{"p":4,"s":24,"x":13,"y":99},{"p":4,"s":24,"x":15,"y":100},{"p":4,"s":24,"x":18,"y":100},
{"p":4,"s":25,"x":11.5,"y":96.7},{"p":4,"s":25,"x":11.8,"y":98},{"p":4,"s":25,"x":12.5,"y":99},{"p":4,"s":25,"x":14,"y":100},{"p":4,"s":25,"x":17,"y":100},
{"p":4,"s":26,"x":16.2,"y":95.8},{"p":4,"s":26,"x":21,"y":98.3},{"p":4,"s":26,"x":24.4,"y":99.3},{"p":4,"s":26,"x":27,"y":99.5},{"p":4,"s":26,"x":30,"y":99.7},{"p":4,"s":26,"x":36,"y":100},{"p":4,"s":26,"x":42.9,"y":100},
{"p":4,"s":27,"x":14.5,"y":91.7},{"p":4,"s":27,"x":16,"y":92.7},{"p":4,"s":27,"x":18,"y":95.5},{"p":4,"s":27,"x":20,"y":98},{"p":4,"s":27,"x":23,"y":99.5},{"p":4,"s":27,"x":26,"y":100},
{"p":4,"s":28,"x":5.06,"y":90.85},{"p":4,"s":28,"x":5.2,"y":95.6},{"p":4,"s":28,"x":5.4,"y":98.1},{"p":4,"s":28,"x":6,"y":100},{"p":4,"s":28,"x":8,"y":100},
{"p":4,"s":29,"x":15,"y":100},{"p":4,"s":29,"x":25,"y":100},{"p":4,"s":29,"x":35,"y":100},{"p":4,"s":29,"x":40,"y":100},{"p":4,"s":29,"x":47,"y":100},
{"p":4,"s":30,"x":5.56,"y":74.7},{"p":4,"s":30,"x":5.86,"y":94.2},{"p":4,"s":30,"x":6.3,"y":99.6},{"p":4,"s":30,"x":7,"y":100},{"p":4,"s":30,"x":8,"y":100},{"p":4,"s":30,"x":10,"y":100},
{"p":4,"s":31,"x":7.6,"y":93.5},{"p":4,"s":31,"x":8,"y":94.5},{"p":4,"s":31,"x":8.3,"y":96},{"p":4,"s":31,"x":9,"y":97.5},{"p":4,"s":31,"x":10,"y":98.5},{"p":4,"s":31,"x":12,"y":99.5},{"p":4,"s":31,"x":15,"y":100},
{"p":4,"s":32,"x":20,"y":100},{"p":4,"s":32,"x":28,"y":100},{"p":4,"s":32,"x":35,"y":100},{"p":4,"s":32,"x":38,"y":100},{"p":4,"s":32,"x":41,"y":100},{"p":4,"s":32,"x":45.4,"y":100},{"p":4,"s":32,"x":52.2,"y":100},
{"p":4,"s":33,"x":12,"y":98.5},{"p":4,"s":33,"x":14,"y":99},{"p":4,"s":33,"x":16,"y":99.3},{"p":4,"s":33,"x":18,"y":99.6},{"p":4,"s":33,"x":22,"y":99.8},{"p":4,"s":33,"x":26,"y":100},{"p":4,"s":33,"x":30,"y":100},{"p":4,"s":33,"x":34,"y":100},{"p":4,"s":33,"x":38.5,"y":100},

{"p":5,"s":0,"x":20,"y":69.5},{"p":5,"s":0,"x":20.2,"y":72.5},{"p":5,"s":0,"x":21,"y":77.4},{"p":5,"s":0,"x":21.2,"y":80.2},{"p":5,"s":0,"x":21.7,"y":87.5},{"p":5,"s":0,"x":22.7,"y":92.7},
{"p":5,"s":1,"x":17.8,"y":59.5},{"p":5,"s":1,"x":19.1,"y":64.6},{"p":5,"s":1,"x":19.6,"y":68.4},{"p":5,"s":1,"x":20.35,"y":74.5},{"p":5,"s":1,"x":21.4,"y":84.4},{"p":5,"s":1,"x":21.8,"y":93},{"p":5,"s":1,"x":22.5,"y":97.5},{"p":5,"s":1,"x":25,"y":99.5},{"p":5,"s":1,"x":30,"y":100},
{"p":5,"s":2,"x":24,"y":99},{"p":5,"s":2,"x":27,"y":99.7},{"p":5,"s":2,"x":30,"y":100},{"p":5,"s":2,"x":33,"y":100},
{"p":5,"s":3,"x":25,"y":99.3},{"p":5,"s":3,"x":28,"y":99.8},{"p":5,"s":3,"x":31,"y":100},{"p":5,"s":3,"x":34,"y":100},
{"p":5,"s":4,"x":25,"y":99.2},{"p":5,"s":4,"x":28,"y":99.7},{"p":5,"s":4,"x":31,"y":100},{"p":5,"s":4,"x":35,"y":100},
{"p":5,"s":5,"x":26,"y":99.5},{"p":5,"s":5,"x":29,"y":99.8},{"p":5,"s":5,"x":32,"y":100},{"p":5,"s":5,"x":35,"y":100},
{"p":5,"s":6,"x":9.3,"y":51.7},{"p":5,"s":6,"x":10.2,"y":51.5},{"p":5,"s":6,"x":11,"y":51.3},{"p":5,"s":6,"x":12,"y":51},
{"p":5,"s":7,"x":26,"y":99.5},{"p":5,"s":7,"x":29,"y":99.9},{"p":5,"s":7,"x":32,"y":100},{"p":5,"s":7,"x":35,"y":100},
{"p":5,"s":8,"x":24.9,"y":92.6},{"p":5,"s":8,"x":26,"y":96},{"p":5,"s":8,"x":28,"y":98.5},{"p":5,"s":8,"x":30,"y":99.5},{"p":5,"s":8,"x":33,"y":100},
{"p":5,"s":9,"x":23.3,"y":89.5},{"p":5,"s":9,"x":25,"y":95.4},{"p":5,"s":9,"x":26.4,"y":97.5},{"p":5,"s":9,"x":28,"y":99},{"p":5,"s":9,"x":31,"y":100},
{"p":5,"s":10,"x":21,"y":95},{"p":5,"s":10,"x":22,"y":98},{"p":5,"s":10,"x":25,"y":99.5},{"p":5,"s":10,"x":30,"y":100},{"p":5,"s":10,"x":35,"y":100},
{"p":5,"s":11,"x":5.6,"y":51.1},{"p":5,"s":11,"x":7,"y":55.4},{"p":5,"s":11,"x":7.65,"y":59.9},{"p":5,"s":11,"x":8.7,"y":64},{"p":5,"s":11,"x":9.9,"y":70.1},{"p":5,"s":11,"x":11.6,"y":76.4},{"p":5,"s":11,"x":13.2,"y":82},{"p":5,"s":11,"x":15,"y":87},{"p":5,"s":11,"x":18,"y":93},{"p":5,"s":11,"x":21,"y":97},{"p":5,"s":11,"x":25,"y":99.5},
{"p":5,"s":12,"x":7.2,"y":62.2},{"p":5,"s":12,"x":7.8,"y":67.6},{"p":5,"s":12,"x":8.9,"y":74.5},{"p":5,"s":12,"x":11.9,"y":86.1},{"p":5,"s":12,"x":14.3,"y":92.6},{"p":5,"s":12,"x":17,"y":95.5},{"p":5,"s":12,"x":20,"y":98},{"p":5,"s":12,"x":24,"y":99.5},{"p":5,"s":12,"x":30,"y":100},
{"p":5,"s":13,"x":15.5,"y":93.5},{"p":5,"s":13,"x":16.5,"y":95},{"p":5,"s":13,"x":17.5,"y":96.5},{"p":5,"s":13,"x":19,"y":98},{"p":5,"s":13,"x":22,"y":99.5},{"p":5,"s":13,"x":26,"y":100},
{"p":5,"s":14,"x":20,"y":68},{"p":5,"s":14,"x":20.5,"y":74},{"p":5,"s":14,"x":21,"y":83},{"p":5,"s":14,"x":21.6,"y":92.5},{"p":5,"s":14,"x":22,"y":97},{"p":5,"s":14,"x":25,"y":99.5},{"p":5,"s":14,"x":30,"y":100},
{"p":5,"s":15,"x":20.2,"y":75},{"p":5,"s":15,"x":20.5,"y":82},{"p":5,"s":15,"x":20.8,"y":88},{"p":5,"s":15,"x":21.3,"y":93},{"p":5,"s":15,"x":21.7,"y":97},{"p":5,"s":15,"x":23,"y":99},{"p":5,"s":15,"x":26,"y":100},{"p":5,"s":15,"x":30,"y":100},
{"p":5,"s":16,"x":19.2,"y":70.3},{"p":5,"s":16,"x":19.4,"y":73},{"p":5,"s":16,"x":19.5,"y":79.7},{"p":5,"s":16,"x":20,"y":84},{"p":5,"s":16,"x":20.35,"y":88.9},{"p":5,"s":16,"x":20.7,"y":94},{"p":5,"s":16,"x":21.5,"y":97.5},{"p":5,"s":16,"x":22.5,"y":99},{"p":5,"s":16,"x":25,"y":100},
{"p":5,"s":17,"x":10.5,"y":92.9},{"p":5,"s":17,"x":11.5,"y":94.5},{"p":5,"s":17,"x":13,"y":96},{"p":5,"s":17,"x":16,"y":98.5},{"p":5,"s":17,"x":20,"y":99.5},{"p":5,"s":17,"x":25,"y":100},{"p":5,"s":17,"x":30,"y":100},{"p":5,"s":17,"x":36,"y":100},{"p":5,"s":17,"x":42.3,"y":100},
{"p":5,"s":18,"x":14.8,"y":50.2},{"p":5,"s":18,"x":17.3,"y":54.6},{"p":5,"s":18,"x":18.4,"y":59.9},{"p":5,"s":18,"x":19.1,"y":66.1},{"p":5,"s":18,"x":19.6,"y":74},{"p":5,"s":18,"x":20.1,"y":86},{"p":5,"s":18,"x":20.4,"y":94},{"p":5,"s":18,"x":21.2,"y":97.5},{"p":5,"s":18,"x":23,"y":99.5},{"p":5,"s":18,"x":26,"y":100},
{"p":5,"s":19,"x":8.3,"y":49.5},{"p":5,"s":19,"x":8.8,"y":49.8},{"p":5,"s":19,"x":9.4,"y":49.6},{"p":5,"s":19,"x":9.8,"y":49.9},
{"p":5,"s":20,"x":5.9,"y":56.1},{"p":5,"s":20,"x":6.1,"y":63},{"p":5,"s":20,"x":6.4,"y":70.5},{"p":5,"s":20,"x":6.8,"y":84.9},{"p":5,"s":20,"x":7.65,"y":90.8},{"p":5,"s":20,"x":8.9,"y":95.2},{"p":5,"s":20,"x":11.1,"y":96.9},{"p":5,"s":20,"x":15,"y":99.5},{"p":5,"s":20,"x":17.5,"y":100},{"p":5,"s":20,"x":20,"y":100},
{"p":5,"s":21,"x":6.1,"y":50.2},{"p":5,"s":21,"x":6.2,"y":53},{"p":5,"s":21,"x":6.4,"y":56.1},{"p":5,"s":21,"x":7.2,"y":67.8},{"p":5,"s":21,"x":7.65,"y":77.8},{"p":5,"s":21,"x":8.8,"y":88.5},{"p":5,"s":21,"x":10,"y":94.5},{"p":5,"s":21,"x":12,"y":97.5},{"p":5,"s":21,"x":15,"y":99.3},{"p":5,"s":21,"x":20,"y":100},
{"p":5,"s":22,"x":11.5,"y":50},{"p":5,"s":22,"x":12.2,"y":50.2},{"p":5,"s":22,"x":12.5,"y":54.2},{"p":5,"s":22,"x":13.7,"y":73.7},{"p":5,"s":22,"x":14.8,"y":92.5},{"p":5,"s":22,"x":15.4,"y":98.6},{"p":5,"s":22,"x":18,"y":99.5},{"p":5,"s":22,"x":21,"y":100},
{"p":5,"s":23,"x":7.3,"y":63},{"p":5,"s":23,"x":7.5,"y":74.1},{"p":5,"s":23,"x":8.7,"y":81.9},{"p":5,"s":23,"x":10.5,"y":89.1},{"p":5,"s":23,"x":12.5,"y":93.1},{"p":5,"s":23,"x":15,"y":96},{"p":5,"s":23,"x":18,"y":98.5},{"p":5,"s":23,"x":22,"y":99.5},{"p":5,"s":23,"x":27,"y":100},
{"p":5,"s":24,"x":12.6,"y":56.7},{"p":5,"s":24,"x":12.8,"y":66.7},{"p":5,"s":24,"x":13.05,"y":76.6},{"p":5,"s":24,"x":13.3,"y":83},{"p":5,"s":24,"x":13.55,"y":88.3},{"p":5,"s":24,"x":14.2,"y":93},{"p":5,"s":24,"x":15.6,"y":97.9},{"p":5,"s":24,"x":17,"y":99.5},{"p":5,"s":24,"x":20,"y":100},
{"p":5,"s":25,"x":10.8,"y":83.7},{"p":5,"s":25,"x":11.2,"y":85},{"p":5,"s":25,"x":11.5,"y":87},{"p":5,"s":25,"x":12.1,"y":89.1},{"p":5,"s":25,"x":13.3,"y":91.5},{"p":5,"s":25,"x":14.3,"y":93.9},{"p":5,"s":25,"x":16,"y":95.5},{"p":5,"s":25,"x":18.2,"y":97},{"p":5,"s":25,"x":20,"y":98},{"p":5,"s":25,"x":25,"y":99.5},{"p":5,"s":25,"x":30,"y":100},
{"p":5,"s":26,"x":15.9,"y":88},{"p":5,"s":26,"x":19.3,"y":93.7},{"p":5,"s":26,"x":21.4,"y":96.9},{"p":5,"s":26,"x":24.5,"y":98.5},{"p":5,"s":26,"x":28,"y":99.5},{"p":5,"s":26,"x":33,"y":100},{"p":5,"s":26,"x":36,"y":100},{"p":5,"s":26,"x":42.5,"y":100},
{"p":5,"s":27,"x":14.8,"y":71.7},{"p":5,"s":27,"x":15.1,"y":73},{"p":5,"s":27,"x":15.5,"y":77.2},{"p":5,"s":27,"x":16.1,"y":82.6},{"p":5,"s":27,"x":16.5,"y":86},{"p":5,"s":27,"x":17.5,"y":90},{"p":5,"s":27,"x":18.5,"y":94},{"p":5,"s":27,"x":20,"y":97.5},{"p":5,"s":27,"x":22,"y":99},{"p":5,"s":27,"x":25,"y":100},
{"p":5,"s":28,"x":4.6,"y":67.6},{"p":5,"s":28,"x":4.8,"y":76},{"p":5,"s":28,"x":5.1,"y":84.8},{"p":5,"s":28,"x":5.4,"y":91.6},{"p":5,"s":28,"x":6.1,"y":95.4},{"p":5,"s":28,"x":7,"y":98.3},{"p":5,"s":28,"x":8,"y":99.5},{"p":5,"s":28,"x":10,"y":100},
{"p":5,"s":29,"x":18,"y":100},{"p":5,"s":29,"x":25,"y":100},{"p":5,"s":29,"x":33,"y":100},{"p":5,"s":29,"x":40,"y":100},{"p":5,"s":29,"x":48,"y":100},
{"p":5,"s":30,"x":5.75,"y":57.4},{"p":5,"s":30,"x":5.9,"y":73.7},{"p":5,"s":30,"x":6.2,"y":92.1},{"p":5,"s":30,"x":7,"y":98.5},{"p":5,"s":30,"x":8.5,"y":99.6},{"p":5,"s":30,"x":11.8,"y":99.7},{"p":5,"s":30,"x":18,"y":100},
{"p":5,"s":31,"x":7.8,"y":79.3},{"p":5,"s":31,"x":8.1,"y":82.9},{"p":5,"s":31,"x":9.4,"y":88},{"p":5,"s":31,"x":10.5,"y":91},{"p":5,"s":31,"x":12,"y":93.5},{"p":5,"s":31,"x":15,"y":97},{"p":5,"s":31,"x":18,"y":99},{"p":5,"s":31,"x":22,"y":100},
{"p":5,"s":32,"x":20,"y":100},{"p":5,"s":32,"x":28,"y":100},{"p":5,"s":32,"x":36,"y":100},{"p":5,"s":32,"x":38.5,"y":100},{"p":5,"s":32,"x":40,"y":100},{"p":5,"s":32,"x":42.5,"y":100},{"p":5,"s":32,"x":46,"y":100},{"p":5,"s":32,"x":52.9,"y":100},
{"p":5,"s":33,"x":11,"y":95.5},{"p":5,"s":33,"x":12,"y":96},{"p":5,"s":33,"x":13,"y":96.5},{"p":5,"s":33,"x":14.5,"y":97.5},{"p":5,"s":33,"x":17,"y":98.8},{"p":5,"s":33,"x":20,"y":99.5},{"p":5,"s":33,"x":25,"y":100},{"p":5,"s":33,"x":31,"y":100},{"p":5,"s":33,"x":35,"y":100},{"p":5,"s":33,"x":39,"y":100},

{"p":6,"s":0,"x":16,"y":53.5},{"p":6,"s":0,"x":17.5,"y":54.8},{"p":6,"s":0,"x":18.5,"y":55.5},{"p":6,"s":0,"x":19.5,"y":56.5},{"p":6,"s":0,"x":20.5,"y":57.8},{"p":6,"s":0,"x":21.05,"y":60.4},{"p":6,"s":0,"x":22.3,"y":61},{"p":6,"s":0,"x":23.45,"y":63.1},
{"p":6,"s":1,"x":15.7,"y":54.3},{"p":6,"s":1,"x":17.2,"y":55.5},{"p":6,"s":1,"x":18,"y":56},{"p":6,"s":1,"x":19,"y":56.5},{"p":6,"s":1,"x":20,"y":57.3},{"p":6,"s":1,"x":20.8,"y":58},
{"p":6,"s":2,"x":28.5,"y":93.5},{"p":6,"s":2,"x":30,"y":96.5},{"p":6,"s":2,"x":32,"y":98.5},{"p":6,"s":2,"x":35,"y":99.7},
{"p":6,"s":3,"x":28,"y":92.5},{"p":6,"s":3,"x":29.5,"y":95.5},{"p":6,"s":3,"x":31,"y":98},{"p":6,"s":3,"x":34,"y":99.5},{"p":6,"s":3,"x":37,"y":100},
{"p":6,"s":4,"x":28,"y":91.1},{"p":6,"s":4,"x":28.5,"y":95},{"p":6,"s":4,"x":30,"y":97.5},{"p":6,"s":4,"x":33,"y":99},{"p":6,"s":4,"x":36,"y":100},
{"p":6,"s":5,"x":29,"y":95},{"p":6,"s":5,"x":31,"y":97.7},{"p":6,"s":5,"x":34,"y":99.5},{"p":6,"s":5,"x":37,"y":100},
{"p":6,"s":6,"x":29.5,"y":95.5},{"p":6,"s":6,"x":31,"y":97.5},{"p":6,"s":6,"x":33,"y":99},{"p":6,"s":6,"x":35,"y":100},
{"p":6,"s":7,"x":29,"y":94},{"p":6,"s":7,"x":30.5,"y":97},{"p":6,"s":7,"x":33,"y":99},{"p":6,"s":7,"x":36,"y":100},
{"p":6,"s":8,"x":23.3,"y":59.8},{"p":6,"s":8,"x":25.5,"y":73.3},{"p":6,"s":8,"x":27.1,"y":82.3},{"p":6,"s":8,"x":28.4,"y":88.2},{"p":6,"s":8,"x":29.6,"y":92.3},{"p":6,"s":8,"x":30.5,"y":95.4},{"p":6,"s":8,"x":32,"y":97.4},{"p":6,"s":8,"x":32.9,"y":98.2},{"p":6,"s":8,"x":36,"y":99.5},
{"p":6,"s":9,"x":27.8,"y":94.6},{"p":6,"s":9,"x":28,"y":96.5},{"p":6,"s":9,"x":29.5,"y":98.5},{"p":6,"s":9,"x":32,"y":99.7},{"p":6,"s":9,"x":36,"y":100},
{"p":6,"s":10,"x":5.4,"y":52},{"p":6,"s":10,"x":5.8,"y":55},{"p":6,"s":10,"x":6.5,"y":57.9},{"p":6,"s":10,"x":7.2,"y":61.3},{"p":6,"s":10,"x":7.9,"y":64.9},{"p":6,"s":10,"x":8.8,"y":69.2},{"p":6,"s":10,"x":10,"y":74.9},{"p":6,"s":10,"x":11.8,"y":82.8},{"p":6,"s":10,"x":14.9,"y":91.9},{"p":6,"s":10,"x":17,"y":96},{"p":6,"s":10,"x":20,"y":98.5},{"p":6,"s":10,"x":25,"y":99.5},{"p":6,"s":10,"x":30,"y":100},
{"p":6,"s":11,"x":6.7,"y":59},{"p":6,"s":11,"x":7.3,"y":68.5},{"p":6,"s":11,"x":9.1,"y":78.9},{"p":6,"s":11,"x":10.5,"y":86},{"p":6,"s":11,"x":12.2,"y":90.4},{"p":6,"s":11,"x":14,"y":94},{"p":6,"s":11,"x":17,"y":97.5},{"p":6,"s":11,"x":21,"y":99.5},{"p":6,"s":11,"x":26,"y":100},
{"p":6,"s":12,"x":13.8,"y":92.5},{"p":6,"s":12,"x":15.5,"y":94.5},{"p":6,"s":12,"x":17,"y":96},{"p":6,"s":12,"x":19,"y":97.5},{"p":6,"s":12,"x":21,"y":98.5},{"p":6,"s":12,"x":25,"y":99.5},{"p":6,"s":12,"x":30,"y":100},
{"p":6,"s":13,"x":20.5,"y":52},{"p":6,"s":13,"x":21,"y":55.5},{"p":6,"s":13,"x":21.7,"y":61.3},{"p":6,"s":13,"x":22.4,"y":72.3},{"p":6,"s":13,"x":23.5,"y":84.4},{"p":6,"s":13,"x":24.65,"y":95},{"p":6,"s":13,"x":26,"y":98.5},{"p":6,"s":13,"x":30,"y":99.5},{"p":6,"s":13,"x":36,"y":100},
{"p":6,"s":14,"x":19.2,"y":49},{"p":6,"s":14,"x":19.8,"y":45.5},{"p":6,"s":14,"x":20.4,"y":56.2},{"p":6,"s":14,"x":21,"y":60},{"p":6,"s":14,"x":22.5,"y":75},{"p":6,"s":14,"x":23.9,"y":88.2},{"p":6,"s":14,"x":25,"y":95},{"p":6,"s":14,"x":27,"y":98},{"p":6,"s":14,"x":30,"y":99.5},
{"p":6,"s":15,"x":18.5,"y":50},{"p":6,"s":15,"x":19.5,"y":48.6},{"p":6,"s":15,"x":20.1,"y":47.3},{"p":6,"s":15,"x":20.6,"y":45.3},{"p":6,"s":15,"x":21.05,"y":52.5},{"p":6,"s":15,"x":21.99,"y":50.9},{"p":6,"s":15,"x":22.8,"y":70.3},{"p":6,"s":15,"x":24,"y":83.3},{"p":6,"s":15,"x":27.4,"y":97.6},{"p":6,"s":15,"x":29,"y":99.5},{"p":6,"s":15,"x":33,"y":100},
{"p":6,"s":16,"x":10.9,"y":98.6},{"p":6,"s":16,"x":14,"y":99.3},{"p":6,"s":16,"x":17,"y":99.8},{"p":6,"s":16,"x":22,"y":100},{"p":6,"s":16,"x":30,"y":100},{"p":6,"s":16,"x":40,"y":100},
{"p":6,"s":17,"x":13.5,"y":50},{"p":6,"s":17,"x":15.05,"y":50},{"p":6,"s":17,"x":16.3,"y":49.3},{"p":6,"s":17,"x":17.8,"y":49.4},{"p":6,"s":17,"x":19.2,"y":50.4},{"p":6,"s":17,"x":19.7,"y":51.4},{"p":6,"s":17,"x":22.2,"y":64.6},{"p":6,"s":17,"x":23.6,"y":83.3},{"p":6,"s":17,"x":25.8,"y":98.4},{"p":6,"s":17,"x":27,"y":99},{"p":6,"s":17,"x":30,"y":99.5},{"p":6,"s":17,"x":33,"y":100},
{"p":6,"s":18,"x":17,"y":100},{"p":6,"s":18,"x":22,"y":100},{"p":6,"s":18,"x":28,"y":100},
{"p":6,"s":19,"x":10,"y":51},{"p":6,"s":19,"x":11.5,"y":50.2},{"p":6,"s":19,"x":12,"y":50.3},
{"p":6,"s":20,"x":5.8,"y":50},{"p":6,"s":20,"x":6.3,"y":49.8},{"p":6,"s":20,"x":6.8,"y":49.8},{"p":6,"s":20,"x":7.3,"y":49.9},{"p":6,"s":20,"x":8,"y":50},{"p":6,"s":20,"x":9.5,"y":50.1},{"p":6,"s":20,"x":12,"y":50.3},{"p":6,"s":20,"x":15.9,"y":52.6},
{"p":6,"s":21,"x":6,"y":85.4},{"p":6,"s":21,"x":6.05,"y":91.7},{"p":6,"s":21,"x":6.2,"y":94.5},{"p":6,"s":21,"x":6.4,"y":97.5},{"p":6,"s":21,"x":6.6,"y":99},{"p":6,"s":21,"x":8,"y":99.8},{"p":6,"s":21,"x":10,"y":100},
{"p":6,"s":22,"x":10,"y":50.1},{"p":6,"s":22,"x":11.5,"y":49.5},{"p":6,"s":22,"x":13,"y":49.8},{"p":6,"s":22,"x":15.05,"y":50.5},{"p":6,"s":22,"x":17,"y":49.8},{"p":6,"s":22,"x":19,"y":50},
{"p":6,"s":23,"x":6.5,"y":60.1},{"p":6,"s":23,"x":7.5,"y":71.9},{"p":6,"s":23,"x":8.9,"y":81},{"p":6,"s":23,"x":11.3,"y":89.2},{"p":6,"s":23,"x":13,"y":94},{"p":6,"s":23,"x":16,"y":97.5},{"p":6,"s":23,"x":20,"y":99},{"p":6,"s":23,"x":25,"y":99.8},{"p":6,"s":23,"x":30,"y":100},
{"p":6,"s":24,"x":12.8,"y":90.1},{"p":6,"s":24,"x":12.6,"y":98},{"p":6,"s":24,"x":13.5,"y":99.5},{"p":6,"s":24,"x":15,"y":99.8},{"p":6,"s":24,"x":16,"y":100},{"p":6,"s":24,"x":20,"y":100},
{"p":6,"s":25,"x":10.9,"y":91.6},{"p":6,"s":25,"x":11.5,"y":93},{"p":6,"s":25,"x":12.5,"y":96},{"p":6,"s":25,"x":14,"y":98.5},{"p":6,"s":25,"x":17,"y":99.5},{"p":6,"s":25,"x":20,"y":100},
{"p":6,"s":26,"x":16,"y":96.6},{"p":6,"s":26,"x":19,"y":98.3},{"p":6,"s":26,"x":22,"y":99.2},{"p":6,"s":26,"x":27,"y":99.8},{"p":6,"s":26,"x":35,"y":100},{"p":6,"s":26,"x":42.5,"y":100},
{"p":6,"s":27,"x":13.8,"y":87.5},{"p":6,"s":27,"x":14.6,"y":86.2},{"p":6,"s":27,"x":15.2,"y":85.7},{"p":6,"s":27,"x":15.8,"y":85.8},{"p":6,"s":27,"x":16.9,"y":82.1},{"p":6,"s":27,"x":17.6,"y":81.6},{"p":6,"s":27,"x":18.5,"y":78.9},{"p":6,"s":27,"x":20.1,"y":81.4},{"p":6,"s":27,"x":21.3,"y":85},{"p":6,"s":27,"x":24.2,"y":94.8},{"p":6,"s":27,"x":26,"y":98},{"p":6,"s":27,"x":28,"y":99.5},{"p":6,"s":27,"x":32,"y":100},
{"p":6,"s":28,"x":4.6,"y":95.2},{"p":6,"s":28,"x":5,"y":97.5},{"p":6,"s":28,"x":5.5,"y":98.8},{"p":6,"s":28,"x":6,"y":99.5},{"p":6,"s":28,"x":7,"y":99.8},{"p":6,"s":28,"x":8,"y":100},
{"p":6,"s":29,"x":20,"y":100},{"p":6,"s":29,"x":30,"y":100},{"p":6,"s":29,"x":40,"y":100},{"p":6,"s":29,"x":47.6,"y":100},
{"p":6,"s":30,"x":6,"y":59},{"p":6,"s":30,"x":6.1,"y":79.9},{"p":6,"s":30,"x":6.2,"y":90.6},{"p":6,"s":30,"x":7.2,"y":98.6},{"p":6,"s":30,"x":8.5,"y":99.6},{"p":6,"s":30,"x":11.8,"y":100},{"p":6,"s":30,"x":17.3,"y":100},
{"p":6,"s":31,"x":7.2,"y":91},{"p":6,"s":31,"x":8,"y":90.9},{"p":6,"s":31,"x":9.7,"y":93.1},{"p":6,"s":31,"x":11,"y":95},{"p":6,"s":31,"x":13,"y":97.5},{"p":6,"s":31,"x":16,"y":99},{"p":6,"s":31,"x":20,"y":99.8},{"p":6,"s":31,"x":25,"y":100},
{"p":6,"s":32,"x":20,"y":100},{"p":6,"s":32,"x":30,"y":100},{"p":6,"s":32,"x":38.5,"y":100},{"p":6,"s":32,"x":42,"y":100},{"p":6,"s":32,"x":46.2,"y":100},{"p":6,"s":32,"x":52.8,"y":100},
{"p":6,"s":33,"x":12.5,"y":95.2},{"p":6,"s":33,"x":14,"y":96},{"p":6,"s":33,"x":15,"y":97},{"p":6,"s":33,"x":16,"y":98.5},{"p":6,"s":33,"x":18,"y":99.5},{"p":6,"s":33,"x":22,"y":100},{"p":6,"s":33,"x":30,"y":100},{"p":6,"s":33,"x":39,"y":100}
]
},
"data": {"name": "pts"},
"bounds": "flush",
"spacing": 111,
"resolve": {"scale": {"x": "independent", "y": "independent", "color": "independent", "shape": "independent"}},
"hconcat": [
  {
    "width": 55, "height": 600,
    "view": {"fill": "transparent", "stroke": null},
    "layer": [
      {
        "data": {"values": [{"n":378},{"n":379},{"n":380},{"n":381},{"n":382},{"n":383},{"n":384},{"n":385},{"n":386},{"n":387},{"n":388},{"n":389},{"n":390},{"n":391},{"n":392},{"n":393},{"n":394},{"n":395},{"n":396},{"n":397},{"n":398},{"n":399}]},
        "mark": {"type": "text", "fontSize": 16, "fontWeight": "bold", "font": "DejaVu Sans", "color": "#b3b3b3"},
        "encoding": {
          "y": {"field": "n", "type": "quantitative", "scale": {"domain": [378.82, 397.739], "reverse": true, "nice": false, "zero": false}, "axis": null},
          "text": {"field": "n", "type": "quantitative", "format": "d"}
        }
      },
      {
        "data": {"name": "names"},
        "transform": [{"filter": {"field": "s", "lt": 0}}],
        "mark": {"type": "point", "filled": true, "opacity": 1},
        "encoding": {
          "color": {"field": "name", "type": "nominal", "scale": {"domain": ["Diffusion-Regen","MBT2018","WebPCompression","GaussianBlur","Resize","RegionZoom","ColorQuantization","Darken","Mult-Diffusion","FlipAttack","Salt&PepperNoise","MedianFilter","Rotation","PixelDropout","ChromaticAberration","Brighten","BMshj2018Factorized","Cheng2020","GaussianNoise","MeanFilter","Crop","ContrastReduction","GammaCorrection","Desaturate","BMshj2018Hyperprior","JPEGCompression","PoissonNoise","UnsharpMasking","Cropout","ContrastEnhancement","HueShift","Oversaturate","MBT2018Mean","JPEG2000Compression"]}, "legend": {"title": null}},
          "shape": {"field": "name", "type": "nominal", "legend": {"title": null}, "scale": {"domain": ["Diffusion-Regen","MBT2018","WebPCompression","GaussianBlur","Resize","RegionZoom","ColorQuantization","Darken","Mult-Diffusion","FlipAttack","Salt&PepperNoise","MedianFilter","Rotation","PixelDropout","ChromaticAberration","Brighten","BMshj2018Factorized","Cheng2020","GaussianNoise","MeanFilter","Crop","ContrastReduction","GammaCorrection","Desaturate","BMshj2018Hyperprior","JPEGCompression","PoissonNoise","UnsharpMasking","Cropout","ContrastEnhancement","HueShift","Oversaturate","MBT2018Mean","JPEG2000Compression"], "range": [
            "M1,0A1,1,0,1,1,-1,0A1,1,0,1,1,1,0ZM-3.2,-0.24L3.2,-0.24L3.2,0.24L-3.2,0.24Z",
            "M-1.05,0L0.75,-1L0.75,1ZM-3.2,-0.24L3.2,-0.24L3.2,0.24L-3.2,0.24Z",
            "M1,0L0.5,0.866L-0.5,0.866L-1,0L-0.5,-0.866L0.5,-0.866ZM-3.2,-0.24L3.2,-0.24L3.2,0.24L-3.2,0.24Z",
            "M0.924,0.383L0.383,0.924L-0.383,0.924L-0.924,0.383L-0.924,-0.383L-0.383,-0.924L0.383,-0.924L0.924,-0.383ZM-3.2,-0.24L3.2,-0.24L3.2,0.24L-3.2,0.24Z",
            "M0,-1.05L1,0.75L-1,0.75ZM-3.2,-0.24L3.2,-0.24L3.2,0.24L-3.2,0.24Z",
            "M1.05,0L-0.75,-1L-0.75,1ZM-3.2,-0.24L3.2,-0.24L3.2,0.24L-3.2,0.24Z",
            "M1,0L0.5,0.866L-0.5,0.866L-1,0L-0.5,-0.866L0.5,-0.866ZM-3.2,-0.24L3.2,-0.24L3.2,0.24L-3.2,0.24Z",
            "M0.924,0.383L0.383,0.924L-0.383,0.924L-0.924,0.383L-0.924,-0.383L-0.383,-0.924L0.383,-0.924L0.924,-0.383ZM-3.2,-0.24L3.2,-0.24L3.2,0.24L-3.2,0.24Z",
            "M-0.85,-0.85L0.85,-0.85L0.85,0.85L-0.85,0.85ZM-3.2,-0.24L3.2,-0.24L3.2,0.24L-3.2,0.24Z",
            "M1.05,0L-0.75,-1L-0.75,1ZM-3.2,-0.24L3.2,-0.24L3.2,0.24L-3.2,0.24Z",
            "M-1,-0.15L-0.15,-0.15L-0.15,-1L0.15,-1L0.15,-0.15L1,-0.15L1,0.15L0.15,0.15L0.15,1L-0.15,1L-0.15,0.15L-1,0.15ZM-3.2,-0.24L3.2,-0.24L3.2,0.24L-3.2,0.24Z",
            "M-1,-0.33L-0.33,-0.33L-0.33,-1L0.33,-1L0.33,-0.33L1,-0.33L1,0.33L0.33,0.33L0.33,1L-0.33,1L-0.33,0.33L-1,0.33ZM-3.2,-0.24L3.2,-0.24L3.2,0.24L-3.2,0.24Z",
            "M0,-1L0.9,0L0,1L-0.9,0ZM-3.2,-0.24L3.2,-0.24L3.2,0.24L-3.2,0.24Z",
            "M0,-1L0.951,-0.309L0.588,0.809L-0.588,0.809L-0.951,-0.309ZM-3.2,-0.24L3.2,-0.24L3.2,0.24L-3.2,0.24Z",
            "M-1,-0.15L-0.15,-0.15L-0.15,-1L0.15,-1L0.15,-0.15L1,-0.15L1,0.15L0.15,0.15L0.15,1L-0.15,1L-0.15,0.15L-1,0.15ZM-3.2,-0.24L3.2,-0.24L3.2,0.24L-3.2,0.24Z",
            "M-1,-0.33L-0.33,-0.33L-0.33,-1L0.33,-1L0.33,-0.33L1,-0.33L1,0.33L0.33,0.33L0.33,1L-0.33,1L-0.33,0.33L-1,0.33ZM-3.2,-0.24L3.2,-0.24L3.2,0.24L-3.2,0.24Z",
            "M0,-1.05L1,0.75L-1,0.75ZM-3.2,-0.24L3.2,-0.24L3.2,0.24L-3.2,0.24Z",
            "M0,-1L0.951,-0.309L0.588,0.809L-0.588,0.809L-0.951,-0.309ZM-3.2,-0.24L3.2,-0.24L3.2,0.24L-3.2,0.24Z",
            "M-0.8,-0.6L-0.6,-0.8L0,-0.2L0.6,-0.8L0.8,-0.6L0.2,0L0.8,0.6L0.6,0.8L0,0.2L-0.6,0.8L-0.8,0.6L-0.2,0ZM-3.2,-0.24L3.2,-0.24L3.2,0.24L-3.2,0.24Z",
            "M1,0A1,1,0,1,1,-1,0A1,1,0,1,1,1,0ZM-3.2,-0.24L3.2,-0.24L3.2,0.24L-3.2,0.24Z",
            "M0,1.05L1,-0.75L-1,-0.75ZM-3.2,-0.24L3.2,-0.24L3.2,0.24L-3.2,0.24Z",
            "M0,-1.1L0.26,-0.36L1.05,-0.34L0.42,0.14L0.65,0.89L0,0.44L-0.65,0.89L-0.42,0.14L-1.05,-0.34L-0.26,-0.36ZM-3.2,-0.24L3.2,-0.24L3.2,0.24L-3.2,0.24Z",
            "M-0.8,-0.6L-0.6,-0.8L0,-0.2L0.6,-0.8L0.8,-0.6L0.2,0L0.8,0.6L0.6,0.8L0,0.2L-0.6,0.8L-0.8,0.6L-0.2,0ZM-3.2,-0.24L3.2,-0.24L3.2,0.24L-3.2,0.24Z",
            "M1,0A1,1,0,1,1,-1,0A1,1,0,1,1,1,0ZM-3.2,-0.24L3.2,-0.24L3.2,0.24L-3.2,0.24Z",
            "M0,-1L0.9,0L0,1L-0.9,0ZM-3.2,-0.24L3.2,-0.24L3.2,0.24L-3.2,0.24Z",
            "M0,-1.1L0.26,-0.36L1.05,-0.34L0.42,0.14L0.65,0.89L0,0.44L-0.65,0.89L-0.42,0.14L-1.05,-0.34L-0.26,-0.36ZM-3.2,-0.24L3.2,-0.24L3.2,0.24L-3.2,0.24Z",
            "M-0.9,-0.5L-0.5,-0.9L0,-0.4L0.5,-0.9L0.9,-0.5L0.4,0L0.9,0.5L0.5,0.9L0,0.4L-0.5,0.9L-0.9,0.5L-0.4,0ZM-3.2,-0.24L3.2,-0.24L3.2,0.24L-3.2,0.24Z",
            "M-0.85,-0.85L0.85,-0.85L0.85,0.85L-0.85,0.85ZM-3.2,-0.24L3.2,-0.24L3.2,0.24L-3.2,0.24Z",
            "M-1.05,0L0.75,-1L0.75,1ZM-3.2,-0.24L3.2,-0.24L3.2,0.24L-3.2,0.24Z",
            "M0,-1L0.866,-0.5L0.866,0.5L0,1L-0.866,0.5L-0.866,-0.5ZM-3.2,-0.24L3.2,-0.24L3.2,0.24L-3.2,0.24Z",
            "M-0.9,-0.5L-0.5,-0.9L0,-0.4L0.5,-0.9L0.9,-0.5L0.4,0L0.9,0.5L0.5,0.9L0,0.4L-0.5,0.9L-0.9,0.5L-0.4,0ZM-3.2,-0.24L3.2,-0.24L3.2,0.24L-3.2,0.24Z",
            "M-0.85,-0.85L0.85,-0.85L0.85,0.85L-0.85,0.85ZM-3.2,-0.24L3.2,-0.24L3.2,0.24L-3.2,0.24Z",
            "M0,1.05L1,-0.75L-1,-0.75ZM-3.2,-0.24L3.2,-0.24L3.2,0.24L-3.2,0.24Z",
            "M0,-1L0.866,-0.5L0.866,0.5L0,1L-0.866,0.5L-0.866,-0.5ZM-3.2,-0.24L3.2,-0.24L3.2,0.24L-3.2,0.24Z"
          ]}}
        }
      }
    ]
  },
  {
    "columns": 3,
    "bounds": "flush",
    "spacing": {"row": 77.7, "column": 62.5},
    "resolve": {"scale": {"x": "independent", "y": "independent"}},
    "concat": [
      {
        "width": 282, "height": 225, "title": "GaussianShading",
        "transform": [{"filter": {"field": "p", "equal": 1}}, {"lookup": "s", "from": {"data": {"name": "names"}, "key": "s", "fields": ["name"]}}],
        "encoding": {
          "x": {"field": "x", "type": "quantitative", "scale": {"domain": [2.66, 54.4], "nice": false, "zero": false}, "axis": {"title": "PSNR", "values": [10,20,30,40,50]}},
          "y": {"field": "y", "type": "quantitative", "scale": {"domain": [-0.0525, 1.0505], "nice": false, "zero": false}, "axis": {"title": "TPR@0.1%FPR", "values": [0,0.2,0.4,0.6,0.8,1], "format": ".1f"}},
          "color": {"field": "name", "type": "nominal", "scale": {"domain": ["Diffusion-Regen","MBT2018","WebPCompression","GaussianBlur","Resize","RegionZoom","ColorQuantization","Darken","Mult-Diffusion","FlipAttack","Salt&PepperNoise","MedianFilter","Rotation","PixelDropout","ChromaticAberration","Brighten","BMshj2018Factorized","Cheng2020","GaussianNoise","MeanFilter","Crop","ContrastReduction","GammaCorrection","Desaturate","BMshj2018Hyperprior","JPEGCompression","PoissonNoise","UnsharpMasking","Cropout","ContrastEnhancement","HueShift","Oversaturate","MBT2018Mean","JPEG2000Compression"]}, "legend": null}
        },
        "layer": [
          {"mark": {"type": "line", "strokeWidth": 1.5}, "encoding": {"order": {"value": null}}},
          {"mark": {"type": "point", "filled": true, "opacity": 1, "size": 42}, "encoding": {"shape": {"field": "name", "type": "nominal", "scale": {"domain": ["Diffusion-Regen","MBT2018","WebPCompression","GaussianBlur","Resize","RegionZoom","ColorQuantization","Darken","Mult-Diffusion","FlipAttack","Salt&PepperNoise","MedianFilter","Rotation","PixelDropout","ChromaticAberration","Brighten","BMshj2018Factorized","Cheng2020","GaussianNoise","MeanFilter","Crop","ContrastReduction","GammaCorrection","Desaturate","BMshj2018Hyperprior","JPEGCompression","PoissonNoise","UnsharpMasking","Cropout","ContrastEnhancement","HueShift","Oversaturate","MBT2018Mean","JPEG2000Compression"]}, "legend": null}}}
        ]
      },
      {
        "width": 282, "height": 225, "title": "StegaStamp",
        "transform": [{"filter": {"field": "p", "equal": 2}}, {"lookup": "s", "from": {"data": {"name": "names"}, "key": "s", "fields": ["name"]}}],
        "encoding": {
          "x": {"field": "x", "type": "quantitative", "scale": {"domain": [2.46, 55.37], "nice": false, "zero": false}, "axis": {"title": "PSNR", "values": [10,20,30,40,50]}},
          "y": {"field": "y", "type": "quantitative", "scale": {"domain": [-0.0525, 1.0505], "nice": false, "zero": false}, "axis": {"title": "TPR@0.1%FPR", "values": [0,0.2,0.4,0.6,0.8,1], "format": ".1f"}},
          "color": {"field": "name", "type": "nominal", "scale": {"domain": ["Diffusion-Regen","MBT2018","WebPCompression","GaussianBlur","Resize","RegionZoom","ColorQuantization","Darken","Mult-Diffusion","FlipAttack","Salt&PepperNoise","MedianFilter","Rotation","PixelDropout","ChromaticAberration","Brighten","BMshj2018Factorized","Cheng2020","GaussianNoise","MeanFilter","Crop","ContrastReduction","GammaCorrection","Desaturate","BMshj2018Hyperprior","JPEGCompression","PoissonNoise","UnsharpMasking","Cropout","ContrastEnhancement","HueShift","Oversaturate","MBT2018Mean","JPEG2000Compression"]}, "legend": null}
        },
        "layer": [
          {"mark": {"type": "line", "strokeWidth": 1.5}, "encoding": {"order": {"value": null}}},
          {"mark": {"type": "point", "filled": true, "opacity": 1, "size": 42}, "encoding": {"shape": {"field": "name", "type": "nominal", "scale": {"domain": ["Diffusion-Regen","MBT2018","WebPCompression","GaussianBlur","Resize","RegionZoom","ColorQuantization","Darken","Mult-Diffusion","FlipAttack","Salt&PepperNoise","MedianFilter","Rotation","PixelDropout","ChromaticAberration","Brighten","BMshj2018Factorized","Cheng2020","GaussianNoise","MeanFilter","Crop","ContrastReduction","GammaCorrection","Desaturate","BMshj2018Hyperprior","JPEGCompression","PoissonNoise","UnsharpMasking","Cropout","ContrastEnhancement","HueShift","Oversaturate","MBT2018Mean","JPEG2000Compression"]}, "legend": null}}}
        ]
      },
      {
        "width": 272, "height": 225, "title": "VINE-R",
        "transform": [{"filter": {"field": "p", "equal": 3}}, {"lookup": "s", "from": {"data": {"name": "names"}, "key": "s", "fields": ["name"]}}],
        "encoding": {
          "x": {"field": "x", "type": "quantitative", "scale": {"domain": [2.12, 53.54], "nice": false, "zero": false}, "axis": {"title": "PSNR", "values": [10,20,30,40,50]}},
          "y": {"field": "y", "type": "quantitative", "scale": {"domain": [-0.0525, 1.0505], "nice": false, "zero": false}, "axis": {"title": "TPR@0.1%FPR", "values": [0,0.2,0.4,0.6,0.8,1], "format": ".1f"}},
          "color": {"field": "name", "type": "nominal", "scale": {"domain": ["Diffusion-Regen","MBT2018","WebPCompression","GaussianBlur","Resize","RegionZoom","ColorQuantization","Darken","Mult-Diffusion","FlipAttack","Salt&PepperNoise","MedianFilter","Rotation","PixelDropout","ChromaticAberration","Brighten","BMshj2018Factorized","Cheng2020","GaussianNoise","MeanFilter","Crop","ContrastReduction","GammaCorrection","Desaturate","BMshj2018Hyperprior","JPEGCompression","PoissonNoise","UnsharpMasking","Cropout","ContrastEnhancement","HueShift","Oversaturate","MBT2018Mean","JPEG2000Compression"]}, "legend": null}
        },
        "layer": [
          {"mark": {"type": "line", "strokeWidth": 1.5}, "encoding": {"order": {"value": null}}},
          {"mark": {"type": "point", "filled": true, "opacity": 1, "size": 42}, "encoding": {"shape": {"field": "name", "type": "nominal", "scale": {"domain": ["Diffusion-Regen","MBT2018","WebPCompression","GaussianBlur","Resize","RegionZoom","ColorQuantization","Darken","Mult-Diffusion","FlipAttack","Salt&PepperNoise","MedianFilter","Rotation","PixelDropout","ChromaticAberration","Brighten","BMshj2018Factorized","Cheng2020","GaussianNoise","MeanFilter","Crop","ContrastReduction","GammaCorrection","Desaturate","BMshj2018Hyperprior","JPEGCompression","PoissonNoise","UnsharpMasking","Cropout","ContrastEnhancement","HueShift","Oversaturate","MBT2018Mean","JPEG2000Compression"]}, "legend": null}}}
        ]
      },
      {
        "width": 282, "height": 222, "title": {"text": "GaussianShading", "offset": 15},
        "transform": [{"filter": {"field": "p", "equal": 4}}, {"lookup": "s", "from": {"data": {"name": "names"}, "key": "s", "fields": ["name"]}}],
        "encoding": {
          "x": {"field": "x", "type": "quantitative", "scale": {"domain": [2.35, 54.57], "nice": false, "zero": false}, "axis": {"title": "PSNR", "values": [10,20,30,40,50]}},
          "y": {"field": "y", "type": "quantitative", "scale": {"domain": [47.08, 102.5], "nice": false, "zero": false}, "axis": {"title": "Extract Accuracy", "values": [50,60,70,80,90,100]}},
          "color": {"field": "name", "type": "nominal", "scale": {"domain": ["Diffusion-Regen","MBT2018","WebPCompression","GaussianBlur","Resize","RegionZoom","ColorQuantization","Darken","Mult-Diffusion","FlipAttack","Salt&PepperNoise","MedianFilter","Rotation","PixelDropout","ChromaticAberration","Brighten","BMshj2018Factorized","Cheng2020","GaussianNoise","MeanFilter","Crop","ContrastReduction","GammaCorrection","Desaturate","BMshj2018Hyperprior","JPEGCompression","PoissonNoise","UnsharpMasking","Cropout","ContrastEnhancement","HueShift","Oversaturate","MBT2018Mean","JPEG2000Compression"]}, "legend": null}
        },
        "layer": [
          {"mark": {"type": "line", "strokeWidth": 1.5}, "encoding": {"order": {"value": null}}},
          {"mark": {"type": "point", "filled": true, "opacity": 1, "size": 42}, "encoding": {"shape": {"field": "name", "type": "nominal", "scale": {"domain": ["Diffusion-Regen","MBT2018","WebPCompression","GaussianBlur","Resize","RegionZoom","ColorQuantization","Darken","Mult-Diffusion","FlipAttack","Salt&PepperNoise","MedianFilter","Rotation","PixelDropout","ChromaticAberration","Brighten","BMshj2018Factorized","Cheng2020","GaussianNoise","MeanFilter","Crop","ContrastReduction","GammaCorrection","Desaturate","BMshj2018Hyperprior","JPEGCompression","PoissonNoise","UnsharpMasking","Cropout","ContrastEnhancement","HueShift","Oversaturate","MBT2018Mean","JPEG2000Compression"]}, "legend": null}}}
        ]
      },
      {
        "width": 282, "height": 222, "title": {"text": "StegaStamp", "offset": 15},
        "transform": [{"filter": {"field": "p", "equal": 5}}, {"lookup": "s", "from": {"data": {"name": "names"}, "key": "s", "fields": ["name"]}}],
        "encoding": {
          "x": {"field": "x", "type": "quantitative", "scale": {"domain": [1.71, 55.43], "nice": false, "zero": false}, "axis": {"title": "PSNR", "values": [10,20,30,40,50]}},
          "y": {"field": "y", "type": "quantitative", "scale": {"domain": [46.64, 102.33], "nice": false, "zero": false}, "axis": {"title": "Extract Accuracy", "values": [50,60,70,80,90,100]}},
          "color": {"field": "name", "type": "nominal", "scale": {"domain": ["Diffusion-Regen","MBT2018","WebPCompression","GaussianBlur","Resize","RegionZoom","ColorQuantization","Darken","Mult-Diffusion","FlipAttack","Salt&PepperNoise","MedianFilter","Rotation","PixelDropout","ChromaticAberration","Brighten","BMshj2018Factorized","Cheng2020","GaussianNoise","MeanFilter","Crop","ContrastReduction","GammaCorrection","Desaturate","BMshj2018Hyperprior","JPEGCompression","PoissonNoise","UnsharpMasking","Cropout","ContrastEnhancement","HueShift","Oversaturate","MBT2018Mean","JPEG2000Compression"]}, "legend": null}
        },
        "layer": [
          {"mark": {"type": "line", "strokeWidth": 1.5}, "encoding": {"order": {"value": null}}},
          {"mark": {"type": "point", "filled": true, "opacity": 1, "size": 42}, "encoding": {"shape": {"field": "name", "type": "nominal", "scale": {"domain": ["Diffusion-Regen","MBT2018","WebPCompression","GaussianBlur","Resize","RegionZoom","ColorQuantization","Darken","Mult-Diffusion","FlipAttack","Salt&PepperNoise","MedianFilter","Rotation","PixelDropout","ChromaticAberration","Brighten","BMshj2018Factorized","Cheng2020","GaussianNoise","MeanFilter","Crop","ContrastReduction","GammaCorrection","Desaturate","BMshj2018Hyperprior","JPEGCompression","PoissonNoise","UnsharpMasking","Cropout","ContrastEnhancement","HueShift","Oversaturate","MBT2018Mean","JPEG2000Compression"]}, "legend": null}}}
        ]
      },
      {
        "width": 272, "height": 222, "title": {"text": "VINE-R", "offset": 15},
        "transform": [{"filter": {"field": "p", "equal": 6}}, {"lookup": "s", "from": {"data": {"name": "names"}, "key": "s", "fields": ["name"]}}],
        "encoding": {
          "x": {"field": "x", "type": "quantitative", "scale": {"domain": [1.79, 53.35], "nice": false, "zero": false}, "axis": {"title": "PSNR", "values": [10,20,30,40,50]}},
          "y": {"field": "y", "type": "quantitative", "scale": {"domain": [42.48, 102.71], "nice": false, "zero": false}, "axis": {"title": "Extract Accuracy", "values": [50,60,70,80,90,100]}},
          "color": {"field": "name", "type": "nominal", "scale": {"domain": ["Diffusion-Regen","MBT2018","WebPCompression","GaussianBlur","Resize","RegionZoom","ColorQuantization","Darken","Mult-Diffusion","FlipAttack","Salt&PepperNoise","MedianFilter","Rotation","PixelDropout","ChromaticAberration","Brighten","BMshj2018Factorized","Cheng2020","GaussianNoise","MeanFilter","Crop","ContrastReduction","GammaCorrection","Desaturate","BMshj2018Hyperprior","JPEGCompression","PoissonNoise","UnsharpMasking","Cropout","ContrastEnhancement","HueShift","Oversaturate","MBT2018Mean","JPEG2000Compression"]}, "legend": null}
        },
        "layer": [
          {"mark": {"type": "line", "strokeWidth": 1.5}, "encoding": {"order": {"value": null}}},
          {"mark": {"type": "point", "filled": true, "opacity": 1, "size": 42}, "encoding": {"shape": {"field": "name", "type": "nominal", "scale": {"domain": ["Diffusion-Regen","MBT2018","WebPCompression","GaussianBlur","Resize","RegionZoom","ColorQuantization","Darken","Mult-Diffusion","FlipAttack","Salt&PepperNoise","MedianFilter","Rotation","PixelDropout","ChromaticAberration","Brighten","BMshj2018Factorized","Cheng2020","GaussianNoise","MeanFilter","Crop","ContrastReduction","GammaCorrection","Desaturate","BMshj2018Hyperprior","JPEGCompression","PoissonNoise","UnsharpMasking","Cropout","ContrastEnhancement","HueShift","Oversaturate","MBT2018Mean","JPEG2000Compression"]}, "legend": null}}}
        ]
      }
    ]
  }
]
}
